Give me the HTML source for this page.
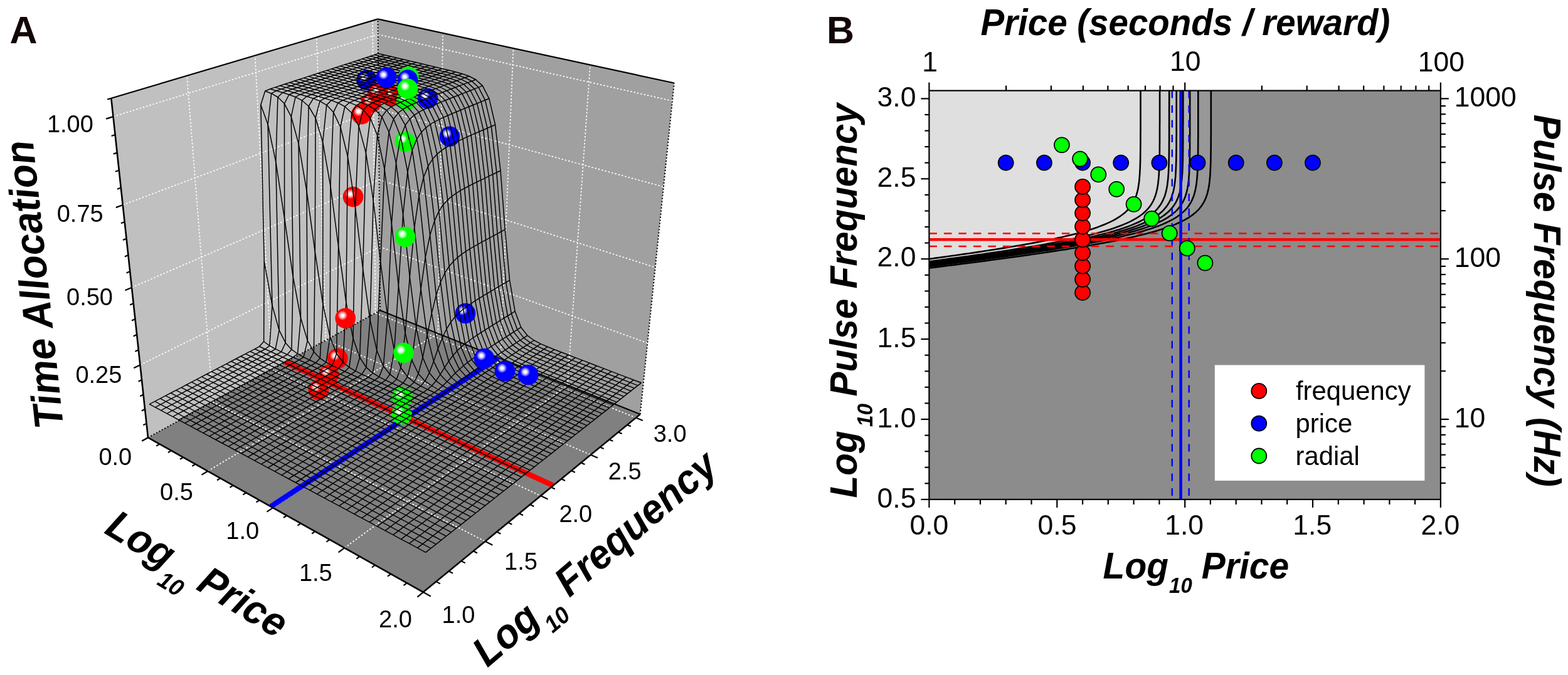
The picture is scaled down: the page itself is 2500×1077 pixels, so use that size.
<!DOCTYPE html>
<html><head><meta charset="utf-8"><title>Reward mountain</title>
<style>html,body{margin:0;padding:0;background:#fff;width:2500px;height:1077px;overflow:hidden}svg{display:block}</style>
</head><body><svg width="2500" height="1077" viewBox="0 0 2500 1077"><defs><radialGradient id="ball_r" cx="0.36" cy="0.36" r="0.5" fx="0.36" fy="0.36"><stop offset="0" stop-color="#fff"/><stop offset="0.13" stop-color="#fffafa"/><stop offset="0.3" stop-color="#ff9090"/><stop offset="0.48" stop-color="#ff0000"/><stop offset="1" stop-color="#ff0000"/></radialGradient><radialGradient id="ball_b" cx="0.36" cy="0.36" r="0.5" fx="0.36" fy="0.36"><stop offset="0" stop-color="#fff"/><stop offset="0.13" stop-color="#fffafa"/><stop offset="0.3" stop-color="#9090ff"/><stop offset="0.48" stop-color="#0000ff"/><stop offset="1" stop-color="#0000ff"/></radialGradient><radialGradient id="ball_g" cx="0.36" cy="0.36" r="0.5" fx="0.36" fy="0.36"><stop offset="0" stop-color="#fff"/><stop offset="0.13" stop-color="#fffafa"/><stop offset="0.3" stop-color="#a0ffa0"/><stop offset="0.48" stop-color="#00ff00"/><stop offset="1" stop-color="#00ff00"/></radialGradient></defs><rect width="2500" height="1077" fill="#fff"/><polygon points="236,698.2 606.2,495.3 602.5,30.4 177.3,156.7" fill="#c0c0c0"/><polygon points="606.2,495.3 1020.7,660.9 1074.9,132.5 602.5,30.4" fill="#a0a0a0"/><polygon points="236,698.2 674.8,944.8 1020.7,660.9 606.2,495.3" fill="#808080"/><line x1="223.5" y1="582.2" x2="605.4" y2="393.8" stroke="#fff" stroke-width="1.7" stroke-dasharray="2.6 2.9" fill="none"/><line x1="605.4" y1="393.8" x2="1032.3" y2="547.3" stroke="#fff" stroke-width="1.7" stroke-dasharray="2.6 2.9" fill="none"/><line x1="210.1" y1="458.7" x2="604.5" y2="286.9" stroke="#fff" stroke-width="1.7" stroke-dasharray="2.6 2.9" fill="none"/><line x1="604.5" y1="286.9" x2="1044.7" y2="426.6" stroke="#fff" stroke-width="1.7" stroke-dasharray="2.6 2.9" fill="none"/><line x1="195.8" y1="327" x2="603.6" y2="174.1" stroke="#fff" stroke-width="1.7" stroke-dasharray="2.6 2.9" fill="none"/><line x1="603.6" y1="174.1" x2="1057.9" y2="298.1" stroke="#fff" stroke-width="1.7" stroke-dasharray="2.6 2.9" fill="none"/><line x1="180.5" y1="186.1" x2="602.7" y2="55" stroke="#fff" stroke-width="1.7" stroke-dasharray="2.6 2.9" fill="none"/><line x1="602.7" y1="55" x2="1072" y2="161" stroke="#fff" stroke-width="1.7" stroke-dasharray="2.6 2.9" fill="none"/><line x1="339.3" y1="641.6" x2="298" y2="120.9" stroke="#fff" stroke-width="1.7" stroke-dasharray="2.6 2.9" fill="none"/><line x1="339.3" y1="641.6" x2="773.6" y2="863.7" stroke="#fff" stroke-width="1.7" stroke-dasharray="2.6 2.9" fill="none"/><line x1="433.4" y1="590" x2="406.6" y2="88.6" stroke="#fff" stroke-width="1.7" stroke-dasharray="2.6 2.9" fill="none"/><line x1="433.4" y1="590" x2="862.1" y2="791.1" stroke="#fff" stroke-width="1.7" stroke-dasharray="2.6 2.9" fill="none"/><line x1="519.5" y1="542.8" x2="504.8" y2="59.4" stroke="#fff" stroke-width="1.7" stroke-dasharray="2.6 2.9" fill="none"/><line x1="519.5" y1="542.8" x2="941.8" y2="725.7" stroke="#fff" stroke-width="1.7" stroke-dasharray="2.6 2.9" fill="none"/><line x1="598.6" y1="499.4" x2="594" y2="32.9" stroke="#fff" stroke-width="1.7" stroke-dasharray="2.6 2.9" fill="none"/><line x1="598.6" y1="499.4" x2="1013.8" y2="666.5" stroke="#fff" stroke-width="1.7" stroke-dasharray="2.6 2.9" fill="none"/><line x1="698.4" y1="532.2" x2="706.1" y2="52.8" stroke="#fff" stroke-width="1.7" stroke-dasharray="2.6 2.9" fill="none"/><line x1="331.2" y1="751.7" x2="698.4" y2="532.2" stroke="#fff" stroke-width="1.7" stroke-dasharray="2.6 2.9" fill="none"/><line x1="797.7" y1="571.8" x2="818.5" y2="77.1" stroke="#fff" stroke-width="1.7" stroke-dasharray="2.6 2.9" fill="none"/><line x1="435.2" y1="810.2" x2="797.7" y2="571.8" stroke="#fff" stroke-width="1.7" stroke-dasharray="2.6 2.9" fill="none"/><line x1="904.8" y1="614.6" x2="941" y2="103.5" stroke="#fff" stroke-width="1.7" stroke-dasharray="2.6 2.9" fill="none"/><line x1="549.2" y1="874.2" x2="904.8" y2="614.6" stroke="#fff" stroke-width="1.7" stroke-dasharray="2.6 2.9" fill="none"/><line x1="606.2" y1="495.3" x2="602.5" y2="30.4" stroke="#000" stroke-width="2" stroke-dasharray="2 3" fill="none"/><line x1="1020.7" y1="660.9" x2="1074.9" y2="132.5" stroke="#000" stroke-width="2" stroke-dasharray="2 3" fill="none"/><line x1="236" y1="698.2" x2="606.2" y2="495.3" stroke="#000" stroke-width="2" stroke-dasharray="2 3" fill="none"/><line x1="606.2" y1="495.3" x2="1020.7" y2="660.9" stroke="#000" stroke-width="2"/><line x1="177.3" y1="156.7" x2="602.5" y2="30.4" stroke="#000" stroke-width="2.2"/><line x1="602.5" y1="30.4" x2="1074.9" y2="132.5" stroke="#000" stroke-width="2.2"/><line x1="454.9" y1="578.2" x2="882.1" y2="774.7" stroke="#ff0000" stroke-width="8.5"/><line x1="431.7" y1="808.2" x2="794.4" y2="570.5" stroke="#0000ff" stroke-width="8.5"/><circle cx="584.6" cy="127.9" r="16.3" fill="url(#ball_b)"/><circle cx="591.5" cy="164" r="16.3" fill="url(#ball_r)"/><circle cx="576.2" cy="182.2" r="16.3" fill="url(#ball_r)"/><circle cx="623.6" cy="152.9" r="16.3" fill="url(#ball_r)"/><circle cx="602.7" cy="148.7" r="16.3" fill="url(#ball_r)"/><circle cx="648" cy="159.9" r="16.3" fill="url(#ball_g)"/><circle cx="682" cy="157.1" r="16.3" fill="url(#ball_b)"/><circle cx="563" cy="314" r="16.3" fill="url(#ball_r)"/><circle cx="645.8" cy="226" r="16.3" fill="url(#ball_g)"/><circle cx="716.9" cy="217.7" r="16.3" fill="url(#ball_b)"/><circle cx="742" cy="500" r="16.3" fill="url(#ball_b)"/><circle cx="538.4" cy="572.1" r="16.3" fill="url(#ball_r)"/><circle cx="524.1" cy="597.7" r="16.3" fill="url(#ball_r)"/><circle cx="507.8" cy="622.2" r="16.3" fill="url(#ball_r)"/><circle cx="641.6" cy="633.4" r="16.3" fill="url(#ball_g)"/><circle cx="640.6" cy="661" r="16.3" fill="url(#ball_g)"/><g fill="none" stroke="#000" stroke-width="1.5" stroke-linejoin="round"><polyline points="238.3,644.9 246.9,640.4 255.4,635.9 263.9,631.4 272.3,627 280.7,622.6 289,618.3 297.2,614 305.4,609.7 313.5,605.4 321.5,601.2 329.5,597 337.4,592.8 345.3,588.7 353.1,584.6 360.9,580.6 368.5,576.5 376.2,572.5 383.8,568.5 391.3,564.6 398.8,560.7 406.2,556.8 413.5,552.8 420.6,545 421.2,416.8 415.8,167.3 422.7,145.2 430.6,142 438.4,139.4 446.2,136.8 453.9,134.3 461.6,131.8 469.2,129.3 476.7,126.8 484.2,124.4 491.7,121.9 499.1,119.5 506.4,117.1 513.7,114.8 520.9,112.4 528,110.1 535.1,107.7 542.2,105.4 549.2,103.1 556.2,100.9 563.1,98.6 569.9,96.4 576.7,94.1 583.5,91.9 590.2,89.7 596.9,87.5 603.5,85.4"/><polyline points="247.5,649.8 256.1,645.3 264.6,640.7 273.1,636.2 281.5,631.8 289.9,627.4 298.2,623 306.4,618.6 314.6,614.3 322.7,610 330.7,605.8 338.7,601.5 346.6,597.3 354.5,593.2 362.3,589.1 370,585 377.7,580.9 385.3,576.8 392.9,572.8 400.4,568.8 407.9,564.9 415.3,561 422.7,557 429.9,551.6 434,487.3 427.1,198.5 432.7,149.2 440.5,144.8 448.4,142.1 456.2,139.6 463.9,137 471.5,134.5 479.1,132 486.7,129.5 494.2,127 501.6,124.6 509,122.1 516.3,119.7 523.6,117.3 530.8,114.9 537.9,112.6 545,110.2 552.1,107.9 559.1,105.6 566,103.3 572.9,101 579.8,98.8 586.6,96.5 593.3,94.3 600,92.1 606.7,89.9 613.3,87.7"/><polyline points="256.7,654.8 265.3,650.2 273.9,645.6 282.4,641.1 290.8,636.6 299.1,632.2 307.4,627.7 315.7,623.3 323.8,619 331.9,614.7 340,610.4 347.9,606.1 355.9,601.9 363.7,597.7 371.5,593.5 379.3,589.4 387,585.3 394.6,581.2 402.2,577.2 409.7,573.2 417.1,569.2 424.6,565.2 431.9,561.3 439.2,556.8 445.1,526.9 439.8,258.4 442.9,155 450.6,147.8 458.4,144.9 466.2,142.3 473.9,139.8 481.6,137.2 489.2,134.7 496.7,132.2 504.2,129.7 511.6,127.2 519,124.8 526.3,122.3 533.5,119.9 540.7,117.5 547.9,115.1 555,112.8 562,110.4 569,108.1 576,105.8 582.8,103.5 589.7,101.2 596.5,98.9 603.2,96.7 609.9,94.5 616.5,92.3 623.1,90.1"/><polyline points="266.1,659.8 274.7,655.2 283.2,650.6 291.7,646 300.1,641.5 308.5,637 316.8,632.5 325,628.1 333.2,623.7 341.3,619.3 349.3,615 357.3,610.7 365.2,606.5 373,602.2 380.8,598 388.6,593.9 396.3,589.7 403.9,585.6 411.5,581.5 419,577.5 426.4,573.5 433.8,569.5 441.2,565.5 448.5,561.4 455.2,547 453.6,348.6 453.4,165.3 460.8,151 468.6,147.8 476.3,145.1 484,142.5 491.7,140 499.3,137.4 506.8,134.9 514.3,132.4 521.7,129.9 529,127.4 536.3,124.9 543.6,122.5 550.8,120.1 557.9,117.7 565,115.3 572,112.9 579,110.6 586,108.3 592.8,106 599.7,103.7 606.5,101.4 613.2,99.1 619.9,96.9 626.5,94.6 633.1,92.4"/><polyline points="275.5,664.9 284.1,660.2 292.7,655.5 301.1,650.9 309.6,646.4 317.9,641.8 326.2,637.3 334.4,632.9 342.6,628.4 350.7,624.1 358.7,619.7 366.7,615.4 374.6,611.1 382.4,606.8 390.2,602.6 398,598.4 405.7,594.2 413.3,590.1 420.8,585.9 428.4,581.9 435.8,577.8 443.2,573.8 450.6,569.8 457.9,565.8 464.9,557.7 467.3,441.8 464.3,186.2 471,154.8 478.8,150.7 486.5,147.9 494.2,145.3 501.9,142.7 509.5,140.1 517,137.6 524.4,135.1 531.9,132.6 539.2,130.1 546.5,127.6 553.7,125.1 560.9,122.7 568.1,120.3 575.1,117.9 582.2,115.5 589.1,113.1 596.1,110.8 602.9,108.4 609.7,106.1 616.5,103.8 623.2,101.6 629.9,99.3 636.5,97 643.1,94.8"/><polyline points="285,670 293.6,665.3 302.2,660.6 310.6,655.9 319.1,651.3 327.4,646.7 335.7,642.2 343.9,637.7 352.1,633.2 360.2,628.8 368.2,624.4 376.2,620 384.1,615.7 391.9,611.4 399.7,607.1 407.5,602.9 415.1,598.7 422.7,594.5 430.3,590.4 437.8,586.3 445.3,582.2 452.7,578.2 460,574.1 467.3,570.1 474.5,564.5 479.5,507.5 476.1,229.2 481.4,160.2 489.1,153.7 496.9,150.8 504.5,148.1 512.2,145.5 519.7,142.9 527.3,140.3 534.7,137.8 542.1,135.3 549.5,132.7 556.7,130.2 564,127.8 571.1,125.3 578.3,122.9 585.3,120.5 592.3,118.1 599.3,115.7 606.2,113.3 613.1,111 619.9,108.6 626.7,106.3 633.4,104 640,101.7 646.6,99.5 653.2,97.2"/><polyline points="294.6,675.1 303.2,670.4 311.8,665.6 320.2,661 328.6,656.3 337,651.7 345.3,647.1 353.5,642.6 361.6,638.1 369.7,633.6 377.8,629.2 385.7,624.8 393.6,620.4 401.5,616.1 409.3,611.8 417,607.5 424.7,603.3 432.3,599 439.8,594.9 447.3,590.7 454.8,586.6 462.2,582.5 469.5,578.5 476.8,574.4 484,569.8 490.3,543.4 489,304.7 492.1,169.5 499.5,157.1 507.2,153.7 514.9,151 522.5,148.3 530.1,145.7 537.6,143.1 545.1,140.5 552.5,138 559.8,135.5 567.1,132.9 574.3,130.4 581.4,128 588.6,125.5 595.6,123.1 602.6,120.6 609.6,118.2 616.5,115.9 623.3,113.5 630.1,111.1 636.9,108.8 643.6,106.5 650.2,104.2 656.8,101.9 663.4,99.6"/><polyline points="304.3,680.3 312.9,675.5 321.4,670.7 329.9,666 338.3,661.3 346.7,656.7 354.9,652.1 363.1,647.5 371.3,642.9 379.4,638.4 387.4,634 395.4,629.5 403.3,625.1 411.1,620.8 418.9,616.4 426.6,612.1 434.3,607.8 441.9,603.6 449.5,599.4 456.9,595.2 464.4,591.1 471.8,587 479.1,582.9 486.4,578.8 493.6,574.5 500.4,561.5 502.3,401.8 503,188.1 510,161.3 517.7,156.8 525.4,153.9 533,151.2 540.6,148.5 548.1,145.9 555.5,143.3 562.9,140.7 570.2,138.2 577.5,135.7 584.7,133.1 591.8,130.6 598.9,128.2 606,125.7 613,123.3 619.9,120.8 626.8,118.4 633.7,116 640.4,113.7 647.2,111.3 653.9,109 660.5,106.7 667.1,104.4 673.6,102.1"/><polyline points="314,685.5 322.6,680.7 331.2,675.9 339.7,671.1 348.1,666.4 356.4,661.7 364.7,657.1 372.9,652.4 381,647.9 389.1,643.3 397.1,638.8 405.1,634.3 413,629.9 420.8,625.5 428.6,621.1 436.3,616.8 444,612.5 451.6,608.2 459.1,603.9 466.6,599.7 474.1,595.6 481.4,591.4 488.8,587.3 496,583.2 503.3,579 510.3,571.5 514.9,485.7 514.6,226.6 520.7,167.6 528.3,160.1 536,156.9 543.6,154.1 551.1,151.4 558.6,148.7 566,146.1 573.4,143.5 580.7,140.9 588,138.4 595.2,135.8 602.3,133.3 609.4,130.8 616.4,128.3 623.4,125.9 630.4,123.4 637.2,121 644.1,118.6 650.8,116.2 657.6,113.8 664.2,111.5 670.9,109.2 677.5,106.8 684,104.5"/><polyline points="323.9,690.8 332.5,685.9 341,681.1 349.5,676.3 357.9,671.5 366.2,666.8 374.5,662.1 382.7,657.4 390.9,652.8 398.9,648.2 407,643.7 414.9,639.2 422.8,634.7 430.6,630.3 438.4,625.8 446.1,621.5 453.8,617.1 461.4,612.8 468.9,608.5 476.4,604.3 483.8,600.1 491.2,595.9 498.5,591.7 505.8,587.6 513,583.5 520.1,578 526.2,537.4 526.9,296.8 531.6,179.1 539,164.2 546.6,160 554.2,157.1 561.7,154.3 569.2,151.6 576.6,149 584,146.3 591.3,143.7 598.5,141.2 605.7,138.6 612.9,136.1 620,133.5 627,131 634,128.5 640.9,126.1 647.7,123.6 654.6,121.2 661.3,118.8 668,116.4 674.7,114 681.3,111.7 687.9,109.3 694.4,107"/><polyline points="333.8,696.2 342.4,691.2 350.9,686.3 359.4,681.5 367.8,676.7 376.1,671.9 384.4,667.2 392.6,662.5 400.8,657.8 408.8,653.2 416.8,648.6 424.8,644.1 432.7,639.5 440.5,635.1 448.3,630.6 456,626.2 463.6,621.8 471.2,617.5 478.8,613.2 486.2,608.9 493.7,604.6 501,600.4 508.3,596.2 515.6,592.1 522.8,587.9 529.9,583.3 536.6,564.2 539.6,393.1 542.8,202.5 549.8,170 557.4,163.6 564.9,160.2 572.5,157.3 579.9,154.5 587.3,151.9 594.7,149.2 602,146.6 609.2,144 616.4,141.4 623.5,138.8 630.6,136.3 637.6,133.8 644.6,131.2 651.5,128.8 658.3,126.3 665.1,123.9 671.9,121.4 678.6,119 685.2,116.6 691.9,114.2 698.4,111.9 704.9,109.5"/><polyline points="343.8,701.5 352.4,696.6 361,691.6 369.4,686.7 377.8,681.9 386.1,677.1 394.4,672.3 402.6,667.6 410.7,662.9 418.8,658.2 426.8,653.6 434.8,649 442.7,644.4 450.5,639.9 458.2,635.4 465.9,631 473.6,626.6 481.2,622.2 488.7,617.8 496.2,613.5 503.6,609.2 510.9,605 518.2,600.8 525.5,596.6 532.7,592.4 539.8,588.1 546.8,578 551.8,482.4 554.4,249.8 560.8,180.3 568.2,168.1 575.8,163.6 583.3,160.5 590.7,157.6 598.1,154.8 605.5,152.1 612.8,149.5 620,146.8 627.2,144.2 634.3,141.6 641.3,139.1 648.3,136.5 655.3,134 662.2,131.5 669,129 675.8,126.6 682.5,124.1 689.2,121.7 695.9,119.3 702.5,116.9 709,114.5 715.5,112.1"/><polyline points="353.9,707 362.5,701.9 371.1,697 379.5,692 387.9,687.1 396.2,682.3 404.5,677.5 412.7,672.7 420.8,668 428.9,663.2 436.9,658.6 444.8,654 452.7,649.4 460.5,644.8 468.3,640.3 476,635.8 483.6,631.3 491.2,626.9 498.7,622.5 506.2,618.2 513.6,613.9 520.9,609.6 528.2,605.3 535.5,601.1 542.7,596.9 549.8,592.7 556.8,586.2 563,540.1 566.5,330.5 572,201.2 579.2,175.2 586.7,168 594.2,164 601.7,160.9 609,158 616.4,155.2 623.6,152.5 630.8,149.9 638,147.2 645.1,144.6 652.1,142 659.1,139.4 666.1,136.9 673,134.4 679.8,131.9 686.6,129.4 693.3,126.9 700,124.5 706.6,122 713.2,119.6 719.7,117.2 726.2,114.8"/><polyline points="364.1,712.4 372.7,707.4 381.2,702.4 389.7,697.4 398.1,692.4 406.4,687.5 414.7,682.7 422.9,677.9 431,673.1 439,668.3 447,663.6 455,659 462.8,654.3 470.7,649.7 478.4,645.2 486.1,640.6 493.7,636.2 501.3,631.7 508.8,627.3 516.3,622.9 523.7,618.5 531,614.2 538.3,609.9 545.5,605.7 552.7,601.4 559.8,597.2 566.9,592.1 573.6,570.5 578.6,429.4 583.4,243.9 590.4,188.5 597.8,174.5 605.2,168.7 612.7,164.9 620,161.7 627.3,158.8 634.6,156 641.8,153.2 648.9,150.5 656,147.9 663.1,145.3 670,142.7 677,140.1 683.8,137.5 690.6,135 697.4,132.5 704.1,130 710.8,127.5 717.4,125.1 724,122.6 730.5,120.2 736.9,117.8"/><polyline points="374.4,718 383,712.9 391.5,707.8 400,702.8 408.4,697.8 416.7,692.8 424.9,687.9 433.1,683.1 441.2,678.3 449.3,673.5 457.3,668.7 465.2,664 473.1,659.3 480.9,654.7 488.6,650.1 496.3,645.5 503.9,641 511.5,636.5 519,632.1 526.4,627.6 533.8,623.2 541.2,618.9 548.4,614.6 555.7,610.3 562.8,606 570,601.8 577,597.2 583.9,586.1 590,510.7 595.2,319.5 601.6,215.8 608.9,186.4 616.4,176 623.8,170.5 631.1,166.6 638.4,163.3 645.6,160.3 652.8,157.4 660,154.6 667,151.9 674,149.3 681,146.6 687.9,144 694.8,141.4 701.6,138.9 708.3,136.3 715,133.8 721.7,131.3 728.3,128.8 734.8,126.4 741.3,124 747.8,121.5"/><polyline points="384.8,723.5 393.4,718.4 401.9,713.3 410.3,708.2 418.7,703.2 427,698.2 435.3,693.2 443.5,688.3 451.6,683.5 459.6,678.6 467.6,673.9 475.5,669.1 483.4,664.4 491.2,659.7 498.9,655.1 506.6,650.5 514.2,645.9 521.8,641.4 529.3,636.9 536.7,632.4 544.1,628 551.4,623.6 558.7,619.2 565.9,614.9 573.1,610.6 580.2,606.4 587.2,602 594.2,595.1 600.8,559.3 606.7,418.2 613.1,270 620.2,210.7 627.6,189.7 634.9,180.2 642.3,174.5 649.5,170.3 656.8,166.8 663.9,163.7 671.1,160.7 678.1,157.9 685.1,155.1 692,152.5 698.9,149.8 705.8,147.2 712.6,144.6 719.3,142 726,139.5 732.6,136.9 739.2,134.4 745.7,131.9 752.2,129.5 758.6,127"/><polyline points="395.3,729.2 403.8,724 412.4,718.8 420.8,713.7 429.2,708.6 437.5,703.6 445.7,698.6 453.9,693.7 462,688.7 470,683.9 478,679 485.9,674.3 493.8,669.5 501.6,664.8 509.3,660.1 517,655.5 524.6,650.9 532.1,646.3 539.6,641.8 547,637.3 554.4,632.8 561.7,628.4 569,624 576.2,619.6 583.4,615.3 590.4,611 597.5,606.7 604.5,601.4 611.3,584.2 617.9,504.7 624.4,357.3 631.5,259.8 638.8,218.2 646.2,199.7 653.5,189.9 660.7,183.6 667.9,178.9 675.1,175.1 682.2,171.7 689.2,168.7 696.2,165.7 703.1,162.9 710,160.2 716.8,157.5 723.5,154.8 730.2,152.2 736.9,149.6 743.5,147 750,144.5 756.5,141.9 763,139.4 769.4,136.9"/><polyline points="405.8,734.8 414.4,729.6 422.9,724.4 431.4,719.2 439.7,714.1 448,709 456.3,704 464.4,699 472.5,694.1 480.6,689.1 488.5,684.3 496.4,679.4 504.3,674.6 512.1,669.9 519.8,665.2 527.4,660.5 535,655.8 542.6,651.2 550.1,646.7 557.5,642.1 564.8,637.6 572.1,633.2 579.4,628.7 586.6,624.3 593.7,620 600.8,615.6 607.9,611.3 614.8,606.6 621.7,597.2 628.6,558.7 635.4,456.1 642.6,342.4 649.9,274.1 657.3,239.8 664.6,221.7 671.9,210.9 679,203.8 686.1,198.5 693.2,194.3 700.2,190.7 707.1,187.4 714,184.3 720.8,181.4 727.6,178.5 734.3,175.8 741,173 747.6,170.3 754.1,167.7 760.7,165 767.1,162.4 773.5,159.8 779.9,157.3"/><polyline points="416.5,740.6 425.1,735.3 433.6,730 442,724.8 450.4,719.6 458.7,714.5 466.9,709.4 475.1,704.4 483.1,699.4 491.2,694.5 499.1,689.5 507,684.7 514.9,679.8 522.6,675 530.4,670.3 538,665.6 545.6,660.9 553.1,656.2 560.6,651.6 568,647 575.4,642.5 582.7,638 589.9,633.5 597.1,629.1 604.2,624.7 611.3,620.3 618.3,616 625.3,611.5 632.2,605.2 639.1,586.7 646,531.4 653.3,441.9 660.7,362.8 668.1,312.4 675.4,282.8 682.6,265.1 689.8,253.7 696.8,245.9 703.8,240.1 710.8,235.5 717.6,231.5 724.4,228 731.2,224.7 737.9,221.6 744.5,218.6 751.1,215.7 757.7,212.8 764.1,210 770.6,207.2 777,204.5 783.3,201.7 789.6,199"/><polyline points="427.3,746.3 435.8,741 444.3,735.7 452.8,730.4 461.1,725.2 469.4,720.1 477.6,714.9 485.8,709.9 493.9,704.8 501.9,699.8 509.8,694.9 517.7,689.9 525.5,685.1 533.3,680.2 541,675.4 548.6,670.7 556.2,665.9 563.7,661.2 571.2,656.6 578.6,652 586,647.4 593.2,642.9 600.5,638.4 607.6,633.9 614.8,629.4 621.8,625 628.8,620.7 635.8,616.3 642.7,611.2 649.6,601.2 656.5,574.4 663.6,522.6 671,461.2 678.3,410.3 685.6,375.1 692.8,352.1 699.9,336.9 706.8,326.5 713.7,318.9 720.5,313.1 727.3,308.4 734,304.2 740.6,300.5 747.2,297 753.7,293.7 760.2,290.5 766.6,287.4 773,284.3 779.3,281.2 785.6,278.2 791.8,275.2 798,272.3"/><polyline points="438.1,752.2 446.7,746.8 455.2,741.4 463.6,736.1 472,730.9 480.2,725.7 488.4,720.5 496.6,715.4 504.7,710.3 512.7,705.2 520.6,700.2 528.5,695.3 536.3,690.3 544.1,685.5 551.8,680.6 559.4,675.8 567,671 574.5,666.3 581.9,661.6 589.3,657 596.6,652.4 603.9,647.8 611.1,643.2 618.3,638.7 625.4,634.2 632.5,629.8 639.5,625.4 646.4,621 653.3,616.3 660.2,609.8 667,596.3 674,570.3 681.1,534.8 688.3,499.6 695.4,471.1 702.4,450.2 709.3,435.5 716.1,424.9 722.9,417 729.5,410.8 736.1,405.7 742.7,401.2 749.1,397.2 755.6,393.4 761.9,389.8 768.3,386.2 774.5,382.8 780.8,379.4 786.9,376.1 793.1,372.8 799.2,369.5 805.2,366.2"/><polyline points="449.1,758.1 457.7,752.6 466.1,747.2 474.6,741.9 482.9,736.6 491.2,731.3 499.4,726.1 507.5,720.9 515.6,715.8 523.6,710.7 531.5,705.6 539.4,700.6 547.2,695.7 554.9,690.7 562.6,685.9 570.2,681 577.8,676.2 585.3,671.4 592.7,666.7 600.1,662 607.4,657.4 614.7,652.7 621.9,648.1 629.1,643.6 636.2,639.1 643.2,634.6 650.2,630.2 657.1,625.7 664,621.2 670.8,616 677.7,608.1 684.5,594.8 691.4,576.4 698.3,556.6 705.2,539 712,524.9 718.8,514 725.4,505.6 732,498.9 738.5,493.3 744.9,488.5 751.3,484.1 757.7,479.9 764,476 770.2,472.2 776.4,468.5 782.5,464.8 788.6,461.2 794.7,457.6 800.7,454.1 806.7,450.6 812.6,447.1"/><polyline points="460.2,764 468.7,758.5 477.2,753.1 485.6,747.7 493.9,742.3 502.2,737 510.4,731.7 518.5,726.5 526.6,721.3 534.6,716.2 542.5,711.1 550.4,706.1 558.1,701 565.9,696.1 573.6,691.2 581.2,686.3 588.7,681.4 596.2,676.6 603.6,671.8 611,667.1 618.3,662.4 625.6,657.7 632.8,653.1 639.9,648.5 647,644 654,639.5 661,635 667.9,630.5 674.8,626.1 681.6,621.3 688.4,615.6 695.2,607.7 701.9,597.6 708.7,586.6 715.4,576.3 722.1,567.4 728.7,560 735.2,553.7 741.6,548.3 748,543.5 754.4,539 760.7,534.7 766.9,530.6 773.1,526.7 779.3,522.8 785.4,518.9 791.5,515.1 797.5,511.4 803.5,507.7 809.4,504 815.3,500.3 821.1,496.7"/><polyline points="471.3,770 479.9,764.5 488.4,759 496.7,753.5 505.1,748.1 513.3,742.7 521.5,737.4 529.6,732.2 537.7,726.9 545.7,721.8 553.6,716.6 561.4,711.5 569.2,706.5 576.9,701.5 584.6,696.5 592.2,691.6 599.7,686.7 607.2,681.8 614.6,677 622,672.2 629.3,667.5 636.5,662.8 643.7,658.1 650.8,653.5 657.9,648.9 664.9,644.3 671.9,639.8 678.8,635.3 685.6,630.9 692.4,626.3 699.2,621.4 705.9,615.6 712.6,609 719.3,602 725.9,595.2 732.5,589.1 739,583.5 745.4,578.4 751.8,573.7 758.2,569.3 764.5,565 770.7,560.8 776.9,556.8 783.1,552.8 789.2,548.9 795.2,545 801.3,541.1 807.2,537.3 813.2,533.5 819.1,529.7 824.9,525.9 830.7,522.2"/><polyline points="482.6,776.1 491.2,770.5 499.6,764.9 508,759.4 516.3,754 524.6,748.5 532.7,743.2 540.8,737.9 548.9,732.6 556.8,727.4 564.8,722.2 572.6,717 580.4,711.9 588.1,706.9 595.7,701.9 603.3,696.9 610.8,692 618.3,687.1 625.7,682.2 633.1,677.4 640.3,672.6 647.6,667.9 654.7,663.2 661.9,658.5 668.9,653.9 675.9,649.3 682.9,644.7 689.8,640.2 696.6,635.7 703.4,631.2 710.1,626.6 716.8,621.6 723.5,616.4 730.1,611 736.7,605.7 743.2,600.7 749.6,595.9 756.1,591.3 762.4,586.9 768.7,582.6 775,578.5 781.2,574.4 787.4,570.3 793.5,566.3 799.6,562.3 805.6,558.4 811.6,554.4 817.5,550.6 823.4,546.7 829.3,542.9 835.1,539.1 840.9,535.3"/><polyline points="494,782.2 502.5,776.5 511,770.9 519.4,765.4 527.7,759.9 535.9,754.4 544.1,749 552.2,743.6 560.2,738.3 568.1,733 576,727.8 583.9,722.6 591.6,717.5 599.3,712.4 607,707.3 614.5,702.3 622.1,697.3 629.5,692.4 636.9,687.5 644.2,682.6 651.5,677.8 658.7,673 665.9,668.3 673,663.5 680,658.9 687,654.2 693.9,649.6 700.8,645.1 707.7,640.6 714.4,636 721.2,631.5 727.8,626.9 734.5,622.1 741,617.4 747.6,612.6 754.1,608 760.5,603.6 766.9,599.2 773.2,594.9 779.5,590.7 785.7,586.5 791.9,582.4 798.1,578.3 804.2,574.3 810.2,570.3 816.2,566.3 822.2,562.4 828.1,558.4 834,554.5 839.9,550.7 845.7,546.8 851.4,543"/><polyline points="505.5,788.3 514,782.6 522.5,777 530.8,771.4 539.1,765.8 547.3,760.3 555.5,754.8 563.6,749.4 571.6,744.1 579.5,738.7 587.4,733.5 595.2,728.2 603,723 610.7,717.9 618.3,712.8 625.9,707.7 633.4,702.7 640.8,697.7 648.2,692.8 655.5,687.9 662.8,683 670,678.2 677.1,673.4 684.2,668.6 691.2,663.9 698.2,659.3 705.1,654.6 712,650 718.8,645.5 725.6,640.9 732.3,636.4 738.9,631.8 745.5,627.3 752.1,622.7 758.6,618.2 765.1,613.8 771.5,609.4 777.9,605.1 784.2,600.8 790.4,596.6 796.7,592.4 802.8,588.3 809,584.2 815,580.1 821.1,576.1 827.1,572 833,568.1 838.9,564.1 844.8,560.2 850.6,556.3 856.4,552.4 862.1,548.6"/><polyline points="517.1,794.6 525.6,788.8 534,783.1 542.4,777.4 550.7,771.8 558.9,766.3 567,760.8 575.1,755.3 583.1,749.9 591,744.5 598.9,739.2 606.7,733.9 614.5,728.7 622.1,723.5 629.7,718.3 637.3,713.2 644.8,708.1 652.2,703.1 659.6,698.1 666.9,693.2 674.1,688.3 681.3,683.4 688.4,678.6 695.5,673.8 702.5,669 709.5,664.3 716.4,659.6 723.2,655 730,650.4 736.8,645.8 743.5,641.3 750.1,636.7 756.7,632.2 763.3,627.7 769.8,623.3 776.2,618.9 782.6,614.5 788.9,610.2 795.2,605.9 801.5,601.7 807.7,597.5 813.8,593.3 819.9,589.2 826,585.1 832,581 838,576.9 843.9,572.9 849.8,568.9 855.7,565 861.5,561.1 867.3,557.2 873,553.3"/><polyline points="528.8,800.9 537.3,795 545.7,789.3 554.1,783.6 562.3,777.9 570.5,772.3 578.7,766.7 586.7,761.2 594.7,755.7 602.7,750.3 610.5,744.9 618.3,739.6 626,734.3 633.7,729.1 641.3,723.9 648.8,718.7 656.3,713.6 663.7,708.5 671.1,703.5 678.3,698.5 685.6,693.6 692.7,688.7 699.9,683.8 706.9,679 713.9,674.2 720.9,669.4 727.8,664.7 734.6,660 741.4,655.4 748.1,650.8 754.8,646.2 761.4,641.6 768,637.1 774.5,632.6 781,628.2 787.4,623.8 793.8,619.4 800.1,615.1 806.4,610.7 812.6,606.5 818.8,602.2 825,598 831,593.9 837.1,589.7 843.1,585.6 849.1,581.5 855,577.5 860.8,573.5 866.7,569.5 872.5,565.5 878.2,561.6 883.9,557.7"/><polyline points="540.7,807.2 549.1,801.3 557.5,795.5 565.9,789.8 574.1,784 582.3,778.4 590.4,772.8 598.5,767.2 606.5,761.7 614.4,756.2 622.2,750.8 630,745.4 637.7,740 645.3,734.8 652.9,729.5 660.5,724.3 667.9,719.1 675.3,714 682.6,709 689.9,703.9 697.1,698.9 704.3,694 711.4,689.1 718.4,684.2 725.4,679.4 732.3,674.6 739.2,669.8 746,665.1 752.8,660.4 759.5,655.8 766.2,651.1 772.8,646.6 779.4,642 785.9,637.5 792.3,633 798.7,628.6 805.1,624.2 811.4,619.8 817.7,615.5 823.9,611.2 830,606.9 836.2,602.7 842.2,598.5 848.3,594.3 854.3,590.1 860.2,586 866.1,582 872,577.9 877.8,573.9 883.5,569.9 889.3,565.9 895,562"/><polyline points="552.6,813.6 561.1,807.7 569.5,801.8 577.8,796 586,790.2 594.2,784.5 602.3,778.8 610.3,773.2 618.3,767.6 626.2,762.1 634,756.6 641.8,751.2 649.5,745.8 657.1,740.5 664.7,735.2 672.2,729.9 679.6,724.7 687,719.6 694.3,714.4 701.6,709.4 708.8,704.3 715.9,699.3 723,694.4 730,689.5 737,684.6 743.9,679.7 750.8,674.9 757.6,670.2 764.3,665.5 771,660.8 777.7,656.1 784.3,651.5 790.8,646.9 797.3,642.4 803.8,637.9 810.1,633.4 816.5,629 822.8,624.6 829,620.2 835.2,615.9 841.4,611.6 847.5,607.3 853.5,603 859.5,598.8 865.5,594.7 871.4,590.5 877.3,586.4 883.2,582.3 889,578.3 894.7,574.2 900.4,570.2 906.1,566.3"/><polyline points="564.7,820.1 573.1,814.1 581.5,808.2 589.8,802.3 598,796.5 606.2,790.7 614.3,785 622.3,779.3 630.3,773.7 638.1,768.1 645.9,762.6 653.7,757.1 661.4,751.7 669,746.3 676.5,740.9 684,735.6 691.5,730.4 698.8,725.2 706.1,720 713.4,714.9 720.6,709.8 727.7,704.7 734.8,699.7 741.8,694.8 748.7,689.9 755.6,685 762.5,680.1 769.2,675.3 776,670.6 782.7,665.9 789.3,661.2 795.9,656.5 802.4,651.9 808.9,647.3 815.3,642.8 821.7,638.3 828,633.8 834.3,629.3 840.5,624.9 846.7,620.6 852.8,616.2 858.9,611.9 864.9,607.6 870.9,603.4 876.9,599.2 882.8,595 888.6,590.9 894.5,586.8 900.2,582.7 906,578.6 911.7,574.6 917.3,570.6"/><polyline points="576.8,826.6 585.3,820.6 593.6,814.6 601.9,808.7 610.2,802.8 618.3,796.9 626.4,791.2 634.4,785.4 642.3,779.8 650.2,774.1 658,768.6 665.7,763 673.4,757.5 681,752.1 688.5,746.7 696,741.4 703.4,736.1 710.7,730.8 718,725.6 725.3,720.4 732.4,715.3 739.5,710.2 746.6,705.2 753.6,700.2 760.5,695.2 767.4,690.3 774.2,685.4 781,680.5 787.7,675.7 794.4,671 801,666.2 807.5,661.5 814,656.9 820.5,652.3 826.9,647.7 833.3,643.1 839.6,638.6 845.8,634.1 852,629.7 858.2,625.3 864.3,620.9 870.4,616.6 876.4,612.3 882.4,608 888.3,603.8 894.2,599.5 900,595.4 905.8,591.2 911.6,587.1 917.3,583 923,578.9 928.6,574.9"/><polyline points="589.1,833.2 597.6,827.1 605.9,821.1 614.2,815.1 622.4,809.1 630.5,803.3 638.6,797.4 646.6,791.6 654.5,785.9 662.3,780.2 670.1,774.6 677.8,769 685.5,763.5 693.1,758 700.6,752.5 708.1,747.1 715.4,741.8 722.8,736.5 730.1,731.2 737.3,726 744.4,720.8 751.5,715.7 758.5,710.6 765.5,705.6 772.4,700.6 779.3,695.6 786.1,690.7 792.8,685.8 799.5,680.9 806.2,676.1 812.8,671.4 819.3,666.6 825.8,661.9 832.2,657.3 838.6,652.6 845,648.1 851.3,643.5 857.5,639 863.7,634.5 869.8,630.1 875.9,625.7 882,621.3 888,616.9 893.9,612.6 899.8,608.3 905.7,604.1 911.5,599.9 917.3,595.7 923,591.5 928.7,587.4 934.4,583.3 940,579.3"/><polyline points="601.5,839.9 610,833.7 618.3,827.6 626.6,821.6 634.7,815.6 642.9,809.6 650.9,803.7 658.9,797.9 666.8,792.1 674.6,786.4 682.4,780.7 690.1,775.1 697.7,769.5 705.3,763.9 712.8,758.4 720.2,753 727.6,747.6 734.9,742.2 742.2,736.9 749.4,731.7 756.5,726.4 763.6,721.3 770.6,716.1 777.5,711 784.4,706 791.3,701 798.1,696 804.8,691.1 811.5,686.2 818.1,681.3 824.7,676.5 831.2,671.7 837.7,667 844.1,662.3 850.5,657.6 856.8,653 863,648.4 869.3,643.9 875.4,639.4 881.5,634.9 887.6,630.4 893.7,626 899.6,621.6 905.6,617.3 911.5,613 917.3,608.7 923.1,604.4 928.9,600.2 934.6,596 940.3,591.9 945.9,587.8 951.5,583.7"/><polyline points="614.1,846.6 622.5,840.4 630.8,834.2 639.1,828.1 647.2,822.1 655.3,816.1 663.4,810.1 671.3,804.2 679.2,798.4 687,792.6 694.8,786.9 702.4,781.2 710.1,775.5 717.6,769.9 725.1,764.4 732.5,758.9 739.9,753.4 747.2,748 754.4,742.7 761.6,737.4 768.7,732.1 775.8,726.9 782.7,721.7 789.7,716.5 796.6,711.4 803.4,706.4 810.2,701.4 816.9,696.4 823.5,691.5 830.1,686.6 836.7,681.7 843.2,676.9 849.6,672.1 856,667.4 862.4,662.7 868.7,658 874.9,653.4 881.1,648.8 887.3,644.3 893.4,639.7 899.4,635.2 905.4,630.8 911.4,626.4 917.3,622 923.2,617.6 929,613.3 934.8,609 940.5,604.8 946.2,600.6 951.9,596.4 957.5,592.2 963.1,588.1"/><polyline points="626.8,853.4 635.1,847.1 643.4,840.9 651.7,834.7 659.8,828.6 667.9,822.6 675.9,816.6 683.9,810.6 691.7,804.7 699.5,798.9 707.3,793.1 714.9,787.3 722.5,781.6 730.1,776 737.5,770.4 744.9,764.8 752.3,759.3 759.5,753.9 766.8,748.5 773.9,743.1 781,737.8 788,732.5 795,727.3 801.9,722.1 808.8,717 815.6,711.9 822.3,706.8 829,701.8 835.7,696.8 842.3,691.9 848.8,687 855.3,682.1 861.7,677.3 868.1,672.5 874.4,667.8 880.7,663.1 886.9,658.4 893.1,653.8 899.2,649.2 905.3,644.6 911.3,640.1 917.3,635.6 923.3,631.2 929.2,626.7 935,622.3 940.8,618 946.6,613.7 952.3,609.4 958,605.1 963.6,600.9 969.2,596.7 974.8,592.6"/><polyline points="639.5,860.3 647.9,853.9 656.2,847.7 664.4,841.4 672.6,835.2 680.6,829.1 688.6,823.1 696.5,817.1 704.4,811.1 712.2,805.2 719.9,799.3 727.5,793.5 735.1,787.8 742.6,782.1 750.1,776.4 757.4,770.8 764.8,765.3 772,759.8 779.2,754.3 786.4,748.9 793.4,743.6 800.4,738.2 807.4,733 814.3,727.7 821.1,722.5 827.9,717.4 834.6,712.3 841.3,707.2 847.9,702.2 854.5,697.2 861,692.3 867.5,687.4 873.9,682.5 880.2,677.7 886.5,672.9 892.8,668.2 899,663.5 905.2,658.8 911.3,654.2 917.3,649.6 923.3,645 929.3,640.5 935.2,636 941.1,631.5 946.9,627.1 952.7,622.7 958.5,618.4 964.2,614 969.8,609.7 975.4,605.5 981,601.3 986.5,597.1"/><polyline points="652.5,867.2 660.8,860.8 669.1,854.5 677.3,848.2 685.4,841.9 693.5,835.8 701.4,829.6 709.3,823.6 717.2,817.6 724.9,811.6 732.6,805.7 740.2,799.8 747.8,794 755.3,788.3 762.7,782.6 770.1,776.9 777.4,771.3 784.6,765.7 791.8,760.2 798.9,754.8 806,749.4 813,744 819.9,738.7 826.8,733.4 833.6,728.1 840.4,723 847.1,717.8 853.7,712.7 860.3,707.6 866.9,702.6 873.3,697.6 879.8,692.7 886.2,687.8 892.5,682.9 898.8,678.1 905,673.3 911.2,668.6 917.3,663.8 923.4,659.2 929.5,654.5 935.5,649.9 941.4,645.4 947.3,640.8 953.2,636.3 959,631.9 964.7,627.5 970.4,623.1 976.1,618.7 981.8,614.4 987.3,610.1 992.9,605.8 998.4,601.6"/><polyline points="665.5,874.2 673.9,867.8 682.1,861.3 690.3,855 698.4,848.7 706.4,842.4 714.4,836.3 722.2,830.1 730.1,824.1 737.8,818 745.5,812.1 753.1,806.2 760.6,800.3 768.1,794.5 775.5,788.7 782.8,783 790.1,777.4 797.3,771.8 804.5,766.2 811.6,760.7 818.6,755.2 825.6,749.8 832.5,744.4 839.4,739.1 846.2,733.8 852.9,728.6 859.6,723.4 866.2,718.2 872.8,713.1 879.3,708 885.8,703 892.2,698 898.6,693.1 904.9,688.2 911.1,683.3 917.3,678.5 923.5,673.7 929.6,668.9 935.7,664.2 941.7,659.5 947.7,654.9 953.6,650.3 959.5,645.7 965.3,641.2 971.1,636.7 976.8,632.2 982.5,627.8 988.2,623.4 993.8,619.1 999.4,614.7 1004.9,610.4 1010.4,606.2"/><polyline points="678.7,881.3 687,874.8 695.3,868.3 703.4,861.9 711.5,855.5 719.5,849.2 727.4,843 735.3,836.8 743.1,830.6 750.8,824.6 758.5,818.5 766,812.6 773.6,806.7 781,800.8 788.4,795 795.7,789.2 803,783.5 810.2,777.8 817.3,772.2 824.4,766.7 831.4,761.1 838.3,755.7 845.2,750.2 852.1,744.9 858.8,739.5 865.6,734.2 872.2,729 878.8,723.8 885.4,718.6 891.9,713.5 898.3,708.5 904.7,703.4 911.1,698.4 917.3,693.5 923.6,688.6 929.8,683.7 935.9,678.9 942,674.1 948,669.3 954,664.6 960,659.9 965.9,655.3 971.7,650.7 977.5,646.1 983.3,641.6 989,637.1 994.7,632.6 1000.3,628.2 1005.9,623.8 1011.5,619.4 1017,615.1 1022.4,610.8"/><polyline points="238.3,644.9 247.5,649.8 256.7,654.8 266.1,659.8 275.5,664.9 285,670 294.6,675.1 304.3,680.3 314,685.5 323.9,690.8 333.8,696.2 343.8,701.5 353.9,707 364.1,712.4 374.4,718 384.8,723.5 395.3,729.2 405.8,734.8 416.5,740.6 427.3,746.3 438.1,752.2 449.1,758.1 460.2,764 471.3,770 482.6,776.1 494,782.2 505.5,788.3 517.1,794.6 528.8,800.9 540.7,807.2 552.6,813.6 564.7,820.1 576.8,826.6 589.1,833.2 601.5,839.9 614.1,846.6 626.8,853.4 639.5,860.3 652.5,867.2 665.5,874.2 678.7,881.3"/><polyline points="246.9,640.4 256.1,645.3 265.3,650.2 274.7,655.2 284.1,660.2 293.6,665.3 303.2,670.4 312.9,675.5 322.6,680.7 332.5,685.9 342.4,691.2 352.4,696.6 362.5,701.9 372.7,707.4 383,712.9 393.4,718.4 403.8,724 414.4,729.6 425.1,735.3 435.8,741 446.7,746.8 457.7,752.6 468.7,758.5 479.9,764.5 491.2,770.5 502.5,776.5 514,782.6 525.6,788.8 537.3,795 549.1,801.3 561.1,807.7 573.1,814.1 585.3,820.6 597.6,827.1 610,833.7 622.5,840.4 635.1,847.1 647.9,853.9 660.8,860.8 673.9,867.8 687,874.8"/><polyline points="255.4,635.9 264.6,640.7 273.9,645.6 283.2,650.6 292.7,655.5 302.2,660.6 311.8,665.6 321.4,670.7 331.2,675.9 341,681.1 350.9,686.3 361,691.6 371.1,697 381.2,702.4 391.5,707.8 401.9,713.3 412.4,718.8 422.9,724.4 433.6,730 444.3,735.7 455.2,741.4 466.1,747.2 477.2,753.1 488.4,759 499.6,764.9 511,770.9 522.5,777 534,783.1 545.7,789.3 557.5,795.5 569.5,801.8 581.5,808.2 593.6,814.6 605.9,821.1 618.3,827.6 630.8,834.2 643.4,840.9 656.2,847.7 669.1,854.5 682.1,861.3 695.3,868.3"/><polyline points="263.9,631.4 273.1,636.2 282.4,641.1 291.7,646 301.1,650.9 310.6,655.9 320.2,661 329.9,666 339.7,671.1 349.5,676.3 359.4,681.5 369.4,686.7 379.5,692 389.7,697.4 400,702.8 410.3,708.2 420.8,713.7 431.4,719.2 442,724.8 452.8,730.4 463.6,736.1 474.6,741.9 485.6,747.7 496.7,753.5 508,759.4 519.4,765.4 530.8,771.4 542.4,777.4 554.1,783.6 565.9,789.8 577.8,796 589.8,802.3 601.9,808.7 614.2,815.1 626.6,821.6 639.1,828.1 651.7,834.7 664.4,841.4 677.3,848.2 690.3,855 703.4,861.9"/><polyline points="272.3,627 281.5,631.8 290.8,636.6 300.1,641.5 309.6,646.4 319.1,651.3 328.6,656.3 338.3,661.3 348.1,666.4 357.9,671.5 367.8,676.7 377.8,681.9 387.9,687.1 398.1,692.4 408.4,697.8 418.7,703.2 429.2,708.6 439.7,714.1 450.4,719.6 461.1,725.2 472,730.9 482.9,736.6 493.9,742.3 505.1,748.1 516.3,754 527.7,759.9 539.1,765.8 550.7,771.8 562.3,777.9 574.1,784 586,790.2 598,796.5 610.2,802.8 622.4,809.1 634.7,815.6 647.2,822.1 659.8,828.6 672.6,835.2 685.4,841.9 698.4,848.7 711.5,855.5"/><polyline points="280.7,622.6 289.9,627.4 299.1,632.2 308.5,637 317.9,641.8 327.4,646.7 337,651.7 346.7,656.7 356.4,661.7 366.2,666.8 376.1,671.9 386.1,677.1 396.2,682.3 406.4,687.5 416.7,692.8 427,698.2 437.5,703.6 448,709 458.7,714.5 469.4,720.1 480.2,725.7 491.2,731.3 502.2,737 513.3,742.7 524.6,748.5 535.9,754.4 547.3,760.3 558.9,766.3 570.5,772.3 582.3,778.4 594.2,784.5 606.2,790.7 618.3,796.9 630.5,803.3 642.9,809.6 655.3,816.1 667.9,822.6 680.6,829.1 693.5,835.8 706.4,842.4 719.5,849.2"/><polyline points="289,618.3 298.2,623 307.4,627.7 316.8,632.5 326.2,637.3 335.7,642.2 345.3,647.1 354.9,652.1 364.7,657.1 374.5,662.1 384.4,667.2 394.4,672.3 404.5,677.5 414.7,682.7 424.9,687.9 435.3,693.2 445.7,698.6 456.3,704 466.9,709.4 477.6,714.9 488.4,720.5 499.4,726.1 510.4,731.7 521.5,737.4 532.7,743.2 544.1,749 555.5,754.8 567,760.8 578.7,766.7 590.4,772.8 602.3,778.8 614.3,785 626.4,791.2 638.6,797.4 650.9,803.7 663.4,810.1 675.9,816.6 688.6,823.1 701.4,829.6 714.4,836.3 727.4,843"/><polyline points="297.2,614 306.4,618.6 315.7,623.3 325,628.1 334.4,632.9 343.9,637.7 353.5,642.6 363.1,647.5 372.9,652.4 382.7,657.4 392.6,662.5 402.6,667.6 412.7,672.7 422.9,677.9 433.1,683.1 443.5,688.3 453.9,693.7 464.4,699 475.1,704.4 485.8,709.9 496.6,715.4 507.5,720.9 518.5,726.5 529.6,732.2 540.8,737.9 552.2,743.6 563.6,749.4 575.1,755.3 586.7,761.2 598.5,767.2 610.3,773.2 622.3,779.3 634.4,785.4 646.6,791.6 658.9,797.9 671.3,804.2 683.9,810.6 696.5,817.1 709.3,823.6 722.2,830.1 735.3,836.8"/><polyline points="305.4,609.7 314.6,614.3 323.8,619 333.2,623.7 342.6,628.4 352.1,633.2 361.6,638.1 371.3,642.9 381,647.9 390.9,652.8 400.8,657.8 410.7,662.9 420.8,668 431,673.1 441.2,678.3 451.6,683.5 462,688.7 472.5,694.1 483.1,699.4 493.9,704.8 504.7,710.3 515.6,715.8 526.6,721.3 537.7,726.9 548.9,732.6 560.2,738.3 571.6,744.1 583.1,749.9 594.7,755.7 606.5,761.7 618.3,767.6 630.3,773.7 642.3,779.8 654.5,785.9 666.8,792.1 679.2,798.4 691.7,804.7 704.4,811.1 717.2,817.6 730.1,824.1 743.1,830.6"/><polyline points="313.5,605.4 322.7,610 331.9,614.7 341.3,619.3 350.7,624.1 360.2,628.8 369.7,633.6 379.4,638.4 389.1,643.3 398.9,648.2 408.8,653.2 418.8,658.2 428.9,663.2 439,668.3 449.3,673.5 459.6,678.6 470,683.9 480.6,689.1 491.2,694.5 501.9,699.8 512.7,705.2 523.6,710.7 534.6,716.2 545.7,721.8 556.8,727.4 568.1,733 579.5,738.7 591,744.5 602.7,750.3 614.4,756.2 626.2,762.1 638.1,768.1 650.2,774.1 662.3,780.2 674.6,786.4 687,792.6 699.5,798.9 712.2,805.2 724.9,811.6 737.8,818 750.8,824.6"/><polyline points="321.5,601.2 330.7,605.8 340,610.4 349.3,615 358.7,619.7 368.2,624.4 377.8,629.2 387.4,634 397.1,638.8 407,643.7 416.8,648.6 426.8,653.6 436.9,658.6 447,663.6 457.3,668.7 467.6,673.9 478,679 488.5,684.3 499.1,689.5 509.8,694.9 520.6,700.2 531.5,705.6 542.5,711.1 553.6,716.6 564.8,722.2 576,727.8 587.4,733.5 598.9,739.2 610.5,744.9 622.2,750.8 634,756.6 645.9,762.6 658,768.6 670.1,774.6 682.4,780.7 694.8,786.9 707.3,793.1 719.9,799.3 732.6,805.7 745.5,812.1 758.5,818.5"/><polyline points="329.5,597 338.7,601.5 347.9,606.1 357.3,610.7 366.7,615.4 376.2,620 385.7,624.8 395.4,629.5 405.1,634.3 414.9,639.2 424.8,644.1 434.8,649 444.8,654 455,659 465.2,664 475.5,669.1 485.9,674.3 496.4,679.4 507,684.7 517.7,689.9 528.5,695.3 539.4,700.6 550.4,706.1 561.4,711.5 572.6,717 583.9,722.6 595.2,728.2 606.7,733.9 618.3,739.6 630,745.4 641.8,751.2 653.7,757.1 665.7,763 677.8,769 690.1,775.1 702.4,781.2 714.9,787.3 727.5,793.5 740.2,799.8 753.1,806.2 766,812.6"/><polyline points="337.4,592.8 346.6,597.3 355.9,601.9 365.2,606.5 374.6,611.1 384.1,615.7 393.6,620.4 403.3,625.1 413,629.9 422.8,634.7 432.7,639.5 442.7,644.4 452.7,649.4 462.8,654.3 473.1,659.3 483.4,664.4 493.8,669.5 504.3,674.6 514.9,679.8 525.5,685.1 536.3,690.3 547.2,695.7 558.1,701 569.2,706.5 580.4,711.9 591.6,717.5 603,723 614.5,728.7 626,734.3 637.7,740 649.5,745.8 661.4,751.7 673.4,757.5 685.5,763.5 697.7,769.5 710.1,775.5 722.5,781.6 735.1,787.8 747.8,794 760.6,800.3 773.6,806.7"/><polyline points="345.3,588.7 354.5,593.2 363.7,597.7 373,602.2 382.4,606.8 391.9,611.4 401.5,616.1 411.1,620.8 420.8,625.5 430.6,630.3 440.5,635.1 450.5,639.9 460.5,644.8 470.7,649.7 480.9,654.7 491.2,659.7 501.6,664.8 512.1,669.9 522.6,675 533.3,680.2 544.1,685.5 554.9,690.7 565.9,696.1 576.9,701.5 588.1,706.9 599.3,712.4 610.7,717.9 622.1,723.5 633.7,729.1 645.3,734.8 657.1,740.5 669,746.3 681,752.1 693.1,758 705.3,763.9 717.6,769.9 730.1,776 742.6,782.1 755.3,788.3 768.1,794.5 781,800.8"/><polyline points="353.1,584.6 362.3,589.1 371.5,593.5 380.8,598 390.2,602.6 399.7,607.1 409.3,611.8 418.9,616.4 428.6,621.1 438.4,625.8 448.3,630.6 458.2,635.4 468.3,640.3 478.4,645.2 488.6,650.1 498.9,655.1 509.3,660.1 519.8,665.2 530.4,670.3 541,675.4 551.8,680.6 562.6,685.9 573.6,691.2 584.6,696.5 595.7,701.9 607,707.3 618.3,712.8 629.7,718.3 641.3,723.9 652.9,729.5 664.7,735.2 676.5,740.9 688.5,746.7 700.6,752.5 712.8,758.4 725.1,764.4 737.5,770.4 750.1,776.4 762.7,782.6 775.5,788.7 788.4,795"/><polyline points="360.9,580.6 370,585 379.3,589.4 388.6,593.9 398,598.4 407.5,602.9 417,607.5 426.6,612.1 436.3,616.8 446.1,621.5 456,626.2 465.9,631 476,635.8 486.1,640.6 496.3,645.5 506.6,650.5 517,655.5 527.4,660.5 538,665.6 548.6,670.7 559.4,675.8 570.2,681 581.2,686.3 592.2,691.6 603.3,696.9 614.5,702.3 625.9,707.7 637.3,713.2 648.8,718.7 660.5,724.3 672.2,729.9 684,735.6 696,741.4 708.1,747.1 720.2,753 732.5,758.9 744.9,764.8 757.4,770.8 770.1,776.9 782.8,783 795.7,789.2"/><polyline points="368.5,576.5 377.7,580.9 387,585.3 396.3,589.7 405.7,594.2 415.1,598.7 424.7,603.3 434.3,607.8 444,612.5 453.8,617.1 463.6,621.8 473.6,626.6 483.6,631.3 493.7,636.2 503.9,641 514.2,645.9 524.6,650.9 535,655.8 545.6,660.9 556.2,665.9 567,671 577.8,676.2 588.7,681.4 599.7,686.7 610.8,692 622.1,697.3 633.4,702.7 644.8,708.1 656.3,713.6 667.9,719.1 679.6,724.7 691.5,730.4 703.4,736.1 715.4,741.8 727.6,747.6 739.9,753.4 752.3,759.3 764.8,765.3 777.4,771.3 790.1,777.4 803,783.5"/><polyline points="376.2,572.5 385.3,576.8 394.6,581.2 403.9,585.6 413.3,590.1 422.7,594.5 432.3,599 441.9,603.6 451.6,608.2 461.4,612.8 471.2,617.5 481.2,622.2 491.2,626.9 501.3,631.7 511.5,636.5 521.8,641.4 532.1,646.3 542.6,651.2 553.1,656.2 563.7,661.2 574.5,666.3 585.3,671.4 596.2,676.6 607.2,681.8 618.3,687.1 629.5,692.4 640.8,697.7 652.2,703.1 663.7,708.5 675.3,714 687,719.6 698.8,725.2 710.7,730.8 722.8,736.5 734.9,742.2 747.2,748 759.5,753.9 772,759.8 784.6,765.7 797.3,771.8 810.2,777.8"/><polyline points="383.8,568.5 392.9,572.8 402.2,577.2 411.5,581.5 420.8,585.9 430.3,590.4 439.8,594.9 449.5,599.4 459.1,603.9 468.9,608.5 478.8,613.2 488.7,617.8 498.7,622.5 508.8,627.3 519,632.1 529.3,636.9 539.6,641.8 550.1,646.7 560.6,651.6 571.2,656.6 581.9,661.6 592.7,666.7 603.6,671.8 614.6,677 625.7,682.2 636.9,687.5 648.2,692.8 659.6,698.1 671.1,703.5 682.6,709 694.3,714.4 706.1,720 718,725.6 730.1,731.2 742.2,736.9 754.4,742.7 766.8,748.5 779.2,754.3 791.8,760.2 804.5,766.2 817.3,772.2"/><polyline points="391.3,564.6 400.4,568.8 409.7,573.2 419,577.5 428.4,581.9 437.8,586.3 447.3,590.7 456.9,595.2 466.6,599.7 476.4,604.3 486.2,608.9 496.2,613.5 506.2,618.2 516.3,622.9 526.4,627.6 536.7,632.4 547,637.3 557.5,642.1 568,647 578.6,652 589.3,657 600.1,662 611,667.1 622,672.2 633.1,677.4 644.2,682.6 655.5,687.9 666.9,693.2 678.3,698.5 689.9,703.9 701.6,709.4 713.4,714.9 725.3,720.4 737.3,726 749.4,731.7 761.6,737.4 773.9,743.1 786.4,748.9 798.9,754.8 811.6,760.7 824.4,766.7"/><polyline points="398.8,560.7 407.9,564.9 417.1,569.2 426.4,573.5 435.8,577.8 445.3,582.2 454.8,586.6 464.4,591.1 474.1,595.6 483.8,600.1 493.7,604.6 503.6,609.2 513.6,613.9 523.7,618.5 533.8,623.2 544.1,628 554.4,632.8 564.8,637.6 575.4,642.5 586,647.4 596.6,652.4 607.4,657.4 618.3,662.4 629.3,667.5 640.3,672.6 651.5,677.8 662.8,683 674.1,688.3 685.6,693.6 697.1,698.9 708.8,704.3 720.6,709.8 732.4,715.3 744.4,720.8 756.5,726.4 768.7,732.1 781,737.8 793.4,743.6 806,749.4 818.6,755.2 831.4,761.1"/><polyline points="406.2,556.8 415.3,561 424.6,565.2 433.8,569.5 443.2,573.8 452.7,578.2 462.2,582.5 471.8,587 481.4,591.4 491.2,595.9 501,600.4 510.9,605 520.9,609.6 531,614.2 541.2,618.9 551.4,623.6 561.7,628.4 572.1,633.2 582.7,638 593.2,642.9 603.9,647.8 614.7,652.7 625.6,657.7 636.5,662.8 647.6,667.9 658.7,673 670,678.2 681.3,683.4 692.7,688.7 704.3,694 715.9,699.3 727.7,704.7 739.5,710.2 751.5,715.7 763.6,721.3 775.8,726.9 788,732.5 800.4,738.2 813,744 825.6,749.8 838.3,755.7"/><polyline points="413.5,552.8 422.7,557 431.9,561.3 441.2,565.5 450.6,569.8 460,574.1 469.5,578.5 479.1,582.9 488.8,587.3 498.5,591.7 508.3,596.2 518.2,600.8 528.2,605.3 538.3,609.9 548.4,614.6 558.7,619.2 569,624 579.4,628.7 589.9,633.5 600.5,638.4 611.1,643.2 621.9,648.1 632.8,653.1 643.7,658.1 654.7,663.2 665.9,668.3 677.1,673.4 688.4,678.6 699.9,683.8 711.4,689.1 723,694.4 734.8,699.7 746.6,705.2 758.5,710.6 770.6,716.1 782.7,721.7 795,727.3 807.4,733 819.9,738.7 832.5,744.4 845.2,750.2"/><polyline points="420.6,545 429.9,551.6 439.2,556.8 448.5,561.4 457.9,565.8 467.3,570.1 476.8,574.4 486.4,578.8 496,583.2 505.8,587.6 515.6,592.1 525.5,596.6 535.5,601.1 545.5,605.7 555.7,610.3 565.9,614.9 576.2,619.6 586.6,624.3 597.1,629.1 607.6,633.9 618.3,638.7 629.1,643.6 639.9,648.5 650.8,653.5 661.9,658.5 673,663.5 684.2,668.6 695.5,673.8 706.9,679 718.4,684.2 730,689.5 741.8,694.8 753.6,700.2 765.5,705.6 777.5,711 789.7,716.5 801.9,722.1 814.3,727.7 826.8,733.4 839.4,739.1 852.1,744.9"/><polyline points="421.2,416.8 434,487.3 445.1,526.9 455.2,547 464.9,557.7 474.5,564.5 484,569.8 493.6,574.5 503.3,579 513,583.5 522.8,587.9 532.7,592.4 542.7,596.9 552.7,601.4 562.8,606 573.1,610.6 583.4,615.3 593.7,620 604.2,624.7 614.8,629.4 625.4,634.2 636.2,639.1 647,644 657.9,648.9 668.9,653.9 680,658.9 691.2,663.9 702.5,669 713.9,674.2 725.4,679.4 737,684.6 748.7,689.9 760.5,695.2 772.4,700.6 784.4,706 796.6,711.4 808.8,717 821.1,722.5 833.6,728.1 846.2,733.8 858.8,739.5"/><polyline points="415.8,167.3 427.1,198.5 439.8,258.4 453.6,348.6 467.3,441.8 479.5,507.5 490.3,543.4 500.4,561.5 510.3,571.5 520.1,578 529.9,583.3 539.8,588.1 549.8,592.7 559.8,597.2 570,601.8 580.2,606.4 590.4,611 600.8,615.6 611.3,620.3 621.8,625 632.5,629.8 643.2,634.6 654,639.5 664.9,644.3 675.9,649.3 687,654.2 698.2,659.3 709.5,664.3 720.9,669.4 732.3,674.6 743.9,679.7 755.6,685 767.4,690.3 779.3,695.6 791.3,701 803.4,706.4 815.6,711.9 827.9,717.4 840.4,723 852.9,728.6 865.6,734.2"/><polyline points="422.7,145.2 432.7,149.2 442.9,155 453.4,165.3 464.3,186.2 476.1,229.2 489,304.7 502.3,401.8 514.9,485.7 526.2,537.4 536.6,564.2 546.8,578 556.8,586.2 566.9,592.1 577,597.2 587.2,602 597.5,606.7 607.9,611.3 618.3,616 628.8,620.7 639.5,625.4 650.2,630.2 661,635 671.9,639.8 682.9,644.7 693.9,649.6 705.1,654.6 716.4,659.6 727.8,664.7 739.2,669.8 750.8,674.9 762.5,680.1 774.2,685.4 786.1,690.7 798.1,696 810.2,701.4 822.3,706.8 834.6,712.3 847.1,717.8 859.6,723.4 872.2,729"/><polyline points="430.6,142 440.5,144.8 450.6,147.8 460.8,151 471,154.8 481.4,160.2 492.1,169.5 503,188.1 514.6,226.6 526.9,296.8 539.6,393.1 551.8,482.4 563,540.1 573.6,570.5 583.9,586.1 594.2,595.1 604.5,601.4 614.8,606.6 625.3,611.5 635.8,616.3 646.4,621 657.1,625.7 667.9,630.5 678.8,635.3 689.8,640.2 700.8,645.1 712,650 723.2,655 734.6,660 746,665.1 757.6,670.2 769.2,675.3 781,680.5 792.8,685.8 804.8,691.1 816.9,696.4 829,701.8 841.3,707.2 853.7,712.7 866.2,718.2 878.8,723.8"/><polyline points="438.4,139.4 448.4,142.1 458.4,144.9 468.6,147.8 478.8,150.7 489.1,153.7 499.5,157.1 510,161.3 520.7,167.6 531.6,179.1 542.8,202.5 554.4,249.8 566.5,330.5 578.6,429.4 590,510.7 600.8,559.3 611.3,584.2 621.7,597.2 632.2,605.2 642.7,611.2 653.3,616.3 664,621.2 674.8,626.1 685.6,630.9 696.6,635.7 707.7,640.6 718.8,645.5 730,650.4 741.4,655.4 752.8,660.4 764.3,665.5 776,670.6 787.7,675.7 799.5,680.9 811.5,686.2 823.5,691.5 835.7,696.8 847.9,702.2 860.3,707.6 872.8,713.1 885.4,718.6"/><polyline points="446.2,136.8 456.2,139.6 466.2,142.3 476.3,145.1 486.5,147.9 496.9,150.8 507.2,153.7 517.7,156.8 528.3,160.1 539,164.2 549.8,170 560.8,180.3 572,201.2 583.4,243.9 595.2,319.5 606.7,418.2 617.9,504.7 628.6,558.7 639.1,586.7 649.6,601.2 660.2,609.8 670.8,616 681.6,621.3 692.4,626.3 703.4,631.2 714.4,636 725.6,640.9 736.8,645.8 748.1,650.8 759.5,655.8 771,660.8 782.7,665.9 794.4,671 806.2,676.1 818.1,681.3 830.1,686.6 842.3,691.9 854.5,697.2 866.9,702.6 879.3,708 891.9,713.5"/><polyline points="453.9,134.3 463.9,137 473.9,139.8 484,142.5 494.2,145.3 504.5,148.1 514.9,151 525.4,153.9 536,156.9 546.6,160 557.4,163.6 568.2,168.1 579.2,175.2 590.4,188.5 601.6,215.8 613.1,270 624.4,357.3 635.4,456.1 646,531.4 656.5,574.4 667,596.3 677.7,608.1 688.4,615.6 699.2,621.4 710.1,626.6 721.2,631.5 732.3,636.4 743.5,641.3 754.8,646.2 766.2,651.1 777.7,656.1 789.3,661.2 801,666.2 812.8,671.4 824.7,676.5 836.7,681.7 848.8,687 861,692.3 873.3,697.6 885.8,703 898.3,708.5"/><polyline points="461.6,131.8 471.5,134.5 481.6,137.2 491.7,140 501.9,142.7 512.2,145.5 522.5,148.3 533,151.2 543.6,154.1 554.2,157.1 564.9,160.2 575.8,163.6 586.7,168 597.8,174.5 608.9,186.4 620.2,210.7 631.5,259.8 642.6,342.4 653.3,441.9 663.6,522.6 674,570.3 684.5,594.8 695.2,607.7 705.9,615.6 716.8,621.6 727.8,626.9 738.9,631.8 750.1,636.7 761.4,641.6 772.8,646.6 784.3,651.5 795.9,656.5 807.5,661.5 819.3,666.6 831.2,671.7 843.2,676.9 855.3,682.1 867.5,687.4 879.8,692.7 892.2,698 904.7,703.4"/><polyline points="469.2,129.3 479.1,132 489.2,134.7 499.3,137.4 509.5,140.1 519.7,142.9 530.1,145.7 540.6,148.5 551.1,151.4 561.7,154.3 572.5,157.3 583.3,160.5 594.2,164 605.2,168.7 616.4,176 627.6,189.7 638.8,218.2 649.9,274.1 660.7,362.8 671,461.2 681.1,534.8 691.4,576.4 701.9,597.6 712.6,609 723.5,616.4 734.5,622.1 745.5,627.3 756.7,632.2 768,637.1 779.4,642 790.8,646.9 802.4,651.9 814,656.9 825.8,661.9 837.7,667 849.6,672.1 861.7,677.3 873.9,682.5 886.2,687.8 898.6,693.1 911.1,698.4"/><polyline points="476.7,126.8 486.7,129.5 496.7,132.2 506.8,134.9 517,137.6 527.3,140.3 537.6,143.1 548.1,145.9 558.6,148.7 569.2,151.6 579.9,154.5 590.7,157.6 601.7,160.9 612.7,164.9 623.8,170.5 634.9,180.2 646.2,199.7 657.3,239.8 668.1,312.4 678.3,410.3 688.3,499.6 698.3,556.6 708.7,586.6 719.3,602 730.1,611 741,617.4 752.1,622.7 763.3,627.7 774.5,632.6 785.9,637.5 797.3,642.4 808.9,647.3 820.5,652.3 832.2,657.3 844.1,662.3 856,667.4 868.1,672.5 880.2,677.7 892.5,682.9 904.9,688.2 917.3,693.5"/><polyline points="484.2,124.4 494.2,127 504.2,129.7 514.3,132.4 524.4,135.1 534.7,137.8 545.1,140.5 555.5,143.3 566,146.1 576.6,149 587.3,151.9 598.1,154.8 609,158 620,161.7 631.1,166.6 642.3,174.5 653.5,189.9 664.6,221.7 675.4,282.8 685.6,375.1 695.4,471.1 705.2,539 715.4,576.3 725.9,595.2 736.7,605.7 747.6,612.6 758.6,618.2 769.8,623.3 781,628.2 792.3,633 803.8,637.9 815.3,642.8 826.9,647.7 838.6,652.6 850.5,657.6 862.4,662.7 874.4,667.8 886.5,672.9 898.8,678.1 911.1,683.3 923.6,688.6"/><polyline points="491.7,121.9 501.6,124.6 511.6,127.2 521.7,129.9 531.9,132.6 542.1,135.3 552.5,138 562.9,140.7 573.4,143.5 584,146.3 594.7,149.2 605.5,152.1 616.4,155.2 627.3,158.8 638.4,163.3 649.5,170.3 660.7,183.6 671.9,210.9 682.6,265.1 692.8,352.1 702.4,450.2 712,524.9 722.1,567.4 732.5,589.1 743.2,600.7 754.1,608 765.1,613.8 776.2,618.9 787.4,623.8 798.7,628.6 810.1,633.4 821.7,638.3 833.3,643.1 845,648.1 856.8,653 868.7,658 880.7,663.1 892.8,668.2 905,673.3 917.3,678.5 929.8,683.7"/><polyline points="499.1,119.5 509,122.1 519,124.8 529,127.4 539.2,130.1 549.5,132.7 559.8,135.5 570.2,138.2 580.7,140.9 591.3,143.7 602,146.6 612.8,149.5 623.6,152.5 634.6,156 645.6,160.3 656.8,166.8 667.9,178.9 679,203.8 689.8,253.7 699.9,336.9 709.3,435.5 718.8,514 728.7,560 739,583.5 749.6,595.9 760.5,603.6 771.5,609.4 782.6,614.5 793.8,619.4 805.1,624.2 816.5,629 828,633.8 839.6,638.6 851.3,643.5 863,648.4 874.9,653.4 886.9,658.4 899,663.5 911.2,668.6 923.5,673.7 935.9,678.9"/><polyline points="506.4,117.1 516.3,119.7 526.3,122.3 536.3,124.9 546.5,127.6 556.7,130.2 567.1,132.9 577.5,135.7 588,138.4 598.5,141.2 609.2,144 620,146.8 630.8,149.9 641.8,153.2 652.8,157.4 663.9,163.7 675.1,175.1 686.1,198.5 696.8,245.9 706.8,326.5 716.1,424.9 725.4,505.6 735.2,553.7 745.4,578.4 756.1,591.3 766.9,599.2 777.9,605.1 788.9,610.2 800.1,615.1 811.4,619.8 822.8,624.6 834.3,629.3 845.8,634.1 857.5,639 869.3,643.9 881.1,648.8 893.1,653.8 905.2,658.8 917.3,663.8 929.6,668.9 942,674.1"/><polyline points="513.7,114.8 523.6,117.3 533.5,119.9 543.6,122.5 553.7,125.1 564,127.8 574.3,130.4 584.7,133.1 595.2,135.8 605.7,138.6 616.4,141.4 627.2,144.2 638,147.2 648.9,150.5 660,154.6 671.1,160.7 682.2,171.7 693.2,194.3 703.8,240.1 713.7,318.9 722.9,417 732,498.9 741.6,548.3 751.8,573.7 762.4,586.9 773.2,594.9 784.2,600.8 795.2,605.9 806.4,610.7 817.7,615.5 829,620.2 840.5,624.9 852,629.7 863.7,634.5 875.4,639.4 887.3,644.3 899.2,649.2 911.3,654.2 923.4,659.2 935.7,664.2 948,669.3"/><polyline points="520.9,112.4 530.8,114.9 540.7,117.5 550.8,120.1 560.9,122.7 571.1,125.3 581.4,128 591.8,130.6 602.3,133.3 612.9,136.1 623.5,138.8 634.3,141.6 645.1,144.6 656,147.9 667,151.9 678.1,157.9 689.2,168.7 700.2,190.7 710.8,235.5 720.5,313.1 729.5,410.8 738.5,493.3 748,543.5 758.2,569.3 768.7,582.6 779.5,590.7 790.4,596.6 801.5,601.7 812.6,606.5 823.9,611.2 835.2,615.9 846.7,620.6 858.2,625.3 869.8,630.1 881.5,634.9 893.4,639.7 905.3,644.6 917.3,649.6 929.5,654.5 941.7,659.5 954,664.6"/><polyline points="528,110.1 537.9,112.6 547.9,115.1 557.9,117.7 568.1,120.3 578.3,122.9 588.6,125.5 598.9,128.2 609.4,130.8 620,133.5 630.6,136.3 641.3,139.1 652.1,142 663.1,145.3 674,149.3 685.1,155.1 696.2,165.7 707.1,187.4 717.6,231.5 727.3,308.4 736.1,405.7 744.9,488.5 754.4,539 764.5,565 775,578.5 785.7,586.5 796.7,592.4 807.7,597.5 818.8,602.2 830,606.9 841.4,611.6 852.8,616.2 864.3,620.9 875.9,625.7 887.6,630.4 899.4,635.2 911.3,640.1 923.3,645 935.5,649.9 947.7,654.9 960,659.9"/><polyline points="535.1,107.7 545,110.2 555,112.8 565,115.3 575.1,117.9 585.3,120.5 595.6,123.1 606,125.7 616.4,128.3 627,131 637.6,133.8 648.3,136.5 659.1,139.4 670,142.7 681,146.6 692,152.5 703.1,162.9 714,184.3 724.4,228 734,304.2 742.7,401.2 751.3,484.1 760.7,534.7 770.7,560.8 781.2,574.4 791.9,582.4 802.8,588.3 813.8,593.3 825,598 836.2,602.7 847.5,607.3 858.9,611.9 870.4,616.6 882,621.3 893.7,626 905.4,630.8 917.3,635.6 929.3,640.5 941.4,645.4 953.6,650.3 965.9,655.3"/><polyline points="542.2,105.4 552.1,107.9 562,110.4 572,112.9 582.2,115.5 592.3,118.1 602.6,120.6 613,123.3 623.4,125.9 634,128.5 644.6,131.2 655.3,134 666.1,136.9 677,140.1 687.9,144 698.9,149.8 710,160.2 720.8,181.4 731.2,224.7 740.6,300.5 749.1,397.2 757.7,479.9 766.9,530.6 776.9,556.8 787.4,570.3 798.1,578.3 809,584.2 819.9,589.2 831,593.9 842.2,598.5 853.5,603 864.9,607.6 876.4,612.3 888,616.9 899.6,621.6 911.4,626.4 923.3,631.2 935.2,636 947.3,640.8 959.5,645.7 971.7,650.7"/><polyline points="549.2,103.1 559.1,105.6 569,108.1 579,110.6 589.1,113.1 599.3,115.7 609.6,118.2 619.9,120.8 630.4,123.4 640.9,126.1 651.5,128.8 662.2,131.5 673,134.4 683.8,137.5 694.8,141.4 705.8,147.2 716.8,157.5 727.6,178.5 737.9,221.6 747.2,297 755.6,393.4 764,476 773.1,526.7 783.1,552.8 793.5,566.3 804.2,574.3 815,580.1 826,585.1 837.1,589.7 848.3,594.3 859.5,598.8 870.9,603.4 882.4,608 893.9,612.6 905.6,617.3 917.3,622 929.2,626.7 941.1,631.5 953.2,636.3 965.3,641.2 977.5,646.1"/><polyline points="556.2,100.9 566,103.3 576,105.8 586,108.3 596.1,110.8 606.2,113.3 616.5,115.9 626.8,118.4 637.2,121 647.7,123.6 658.3,126.3 669,129 679.8,131.9 690.6,135 701.6,138.9 712.6,144.6 723.5,154.8 734.3,175.8 744.5,218.6 753.7,293.7 761.9,389.8 770.2,472.2 779.3,522.8 789.2,548.9 799.6,562.3 810.2,570.3 821.1,576.1 832,581 843.1,585.6 854.3,590.1 865.5,594.7 876.9,599.2 888.3,603.8 899.8,608.3 911.5,613 923.2,617.6 935,622.3 946.9,627.1 959,631.9 971.1,636.7 983.3,641.6"/><polyline points="563.1,98.6 572.9,101 582.8,103.5 592.8,106 602.9,108.4 613.1,111 623.3,113.5 633.7,116 644.1,118.6 654.6,121.2 665.1,123.9 675.8,126.6 686.6,129.4 697.4,132.5 708.3,136.3 719.3,142 730.2,152.2 741,173 751.1,215.7 760.2,290.5 768.3,386.2 776.4,468.5 785.4,518.9 795.2,545 805.6,558.4 816.2,566.3 827.1,572 838,576.9 849.1,581.5 860.2,586 871.4,590.5 882.8,595 894.2,599.5 905.7,604.1 917.3,608.7 929,613.3 940.8,618 952.7,622.7 964.7,627.5 976.8,632.2 989,637.1"/><polyline points="569.9,96.4 579.8,98.8 589.7,101.2 599.7,103.7 609.7,106.1 619.9,108.6 630.1,111.1 640.4,113.7 650.8,116.2 661.3,118.8 671.9,121.4 682.5,124.1 693.3,126.9 704.1,130 715,133.8 726,139.5 736.9,149.6 747.6,170.3 757.7,212.8 766.6,287.4 774.5,382.8 782.5,464.8 791.5,515.1 801.3,541.1 811.6,554.4 822.2,562.4 833,568.1 843.9,572.9 855,577.5 866.1,582 877.3,586.4 888.6,590.9 900,595.4 911.5,599.9 923.1,604.4 934.8,609 946.6,613.7 958.5,618.4 970.4,623.1 982.5,627.8 994.7,632.6"/><polyline points="576.7,94.1 586.6,96.5 596.5,98.9 606.5,101.4 616.5,103.8 626.7,106.3 636.9,108.8 647.2,111.3 657.6,113.8 668,116.4 678.6,119 689.2,121.7 700,124.5 710.8,127.5 721.7,131.3 732.6,136.9 743.5,147 754.1,167.7 764.1,210 773,284.3 780.8,379.4 788.6,461.2 797.5,511.4 807.2,537.3 817.5,550.6 828.1,558.4 838.9,564.1 849.8,568.9 860.8,573.5 872,577.9 883.2,582.3 894.5,586.8 905.8,591.2 917.3,595.7 928.9,600.2 940.5,604.8 952.3,609.4 964.2,614 976.1,618.7 988.2,623.4 1000.3,628.2"/><polyline points="583.5,91.9 593.3,94.3 603.2,96.7 613.2,99.1 623.2,101.6 633.4,104 643.6,106.5 653.9,109 664.2,111.5 674.7,114 685.2,116.6 695.9,119.3 706.6,122 717.4,125.1 728.3,128.8 739.2,134.4 750,144.5 760.7,165 770.6,207.2 779.3,281.2 786.9,376.1 794.7,457.6 803.5,507.7 813.2,533.5 823.4,546.7 834,554.5 844.8,560.2 855.7,565 866.7,569.5 877.8,573.9 889,578.3 900.2,582.7 911.6,587.1 923,591.5 934.6,596 946.2,600.6 958,605.1 969.8,609.7 981.8,614.4 993.8,619.1 1005.9,623.8"/><polyline points="590.2,89.7 600,92.1 609.9,94.5 619.9,96.9 629.9,99.3 640,101.7 650.2,104.2 660.5,106.7 670.9,109.2 681.3,111.7 691.9,114.2 702.5,116.9 713.2,119.6 724,122.6 734.8,126.4 745.7,131.9 756.5,141.9 767.1,162.4 777,204.5 785.6,278.2 793.1,372.8 800.7,454.1 809.4,504 819.1,529.7 829.3,542.9 839.9,550.7 850.6,556.3 861.5,561.1 872.5,565.5 883.5,569.9 894.7,574.2 906,578.6 917.3,583 928.7,587.4 940.3,591.9 951.9,596.4 963.6,600.9 975.4,605.5 987.3,610.1 999.4,614.7 1011.5,619.4"/><polyline points="596.9,87.5 606.7,89.9 616.5,92.3 626.5,94.6 636.5,97 646.6,99.5 656.8,101.9 667.1,104.4 677.5,106.8 687.9,109.3 698.4,111.9 709,114.5 719.7,117.2 730.5,120.2 741.3,124 752.2,129.5 763,139.4 773.5,159.8 783.3,201.7 791.8,275.2 799.2,369.5 806.7,450.6 815.3,500.3 824.9,525.9 835.1,539.1 845.7,546.8 856.4,552.4 867.3,557.2 878.2,561.6 889.3,565.9 900.4,570.2 911.7,574.6 923,578.9 934.4,583.3 945.9,587.8 957.5,592.2 969.2,596.7 981,601.3 992.9,605.8 1004.9,610.4 1017,615.1"/><polyline points="603.5,85.4 613.3,87.7 623.1,90.1 633.1,92.4 643.1,94.8 653.2,97.2 663.4,99.6 673.6,102.1 684,104.5 694.4,107 704.9,109.5 715.5,112.1 726.2,114.8 736.9,117.8 747.8,121.5 758.6,127 769.4,136.9 779.9,157.3 789.6,199 798,272.3 805.2,366.2 812.6,447.1 821.1,496.7 830.7,522.2 840.9,535.3 851.4,543 862.1,548.6 873,553.3 883.9,557.7 895,562 906.1,566.3 917.3,570.6 928.6,574.9 940,579.3 951.5,583.7 963.1,588.1 974.8,592.6 986.5,597.1 998.4,601.6 1010.4,606.2 1022.4,610.8"/></g><circle cx="651.4" cy="122.3" r="16.3" fill="url(#ball_g)"/><circle cx="615.9" cy="123.7" r="16.3" fill="url(#ball_b)"/><circle cx="650" cy="127.2" r="16.3" fill="url(#ball_b)"/><circle cx="650" cy="141.8" r="16.3" fill="url(#ball_g)"/><circle cx="550.7" cy="507.8" r="16.3" fill="url(#ball_r)"/><circle cx="646" cy="378" r="16.3" fill="url(#ball_g)"/><circle cx="643.6" cy="563" r="16.3" fill="url(#ball_g)"/><circle cx="772" cy="572" r="16.3" fill="url(#ball_b)"/><circle cx="805" cy="592" r="16.3" fill="url(#ball_b)"/><circle cx="842" cy="598" r="16.3" fill="url(#ball_b)"/><line x1="236" y1="698.2" x2="177.3" y2="156.7" stroke="#000" stroke-width="2.6"/><line x1="236" y1="698.2" x2="674.8" y2="944.8" stroke="#000" stroke-width="2.6"/><line x1="674.8" y1="944.8" x2="1020.7" y2="660.9" stroke="#000" stroke-width="2.6"/><line x1="236" y1="698.2" x2="226.3" y2="703.6" stroke="#000" stroke-width="2.2"/><line x1="233.6" y1="675.6" x2="228.3" y2="678.4" stroke="#000" stroke-width="2.2"/><line x1="231.1" y1="652.7" x2="225.8" y2="655.5" stroke="#000" stroke-width="2.2"/><line x1="228.6" y1="629.5" x2="223.3" y2="632.2" stroke="#000" stroke-width="2.2"/><line x1="226" y1="606" x2="220.7" y2="608.7" stroke="#000" stroke-width="2.2"/><line x1="223.5" y1="582.2" x2="213.3" y2="587.2" stroke="#000" stroke-width="2.2"/><line x1="220.9" y1="558.2" x2="215.4" y2="560.8" stroke="#000" stroke-width="2.2"/><line x1="218.2" y1="533.8" x2="212.7" y2="536.4" stroke="#000" stroke-width="2.2"/><line x1="215.5" y1="509.1" x2="210" y2="511.6" stroke="#000" stroke-width="2.2"/><line x1="212.8" y1="484.1" x2="207.3" y2="486.6" stroke="#000" stroke-width="2.2"/><line x1="210.1" y1="458.7" x2="199.5" y2="463.3" stroke="#000" stroke-width="2.2"/><line x1="207.3" y1="433.1" x2="201.6" y2="435.5" stroke="#000" stroke-width="2.2"/><line x1="204.5" y1="407.1" x2="198.8" y2="409.4" stroke="#000" stroke-width="2.2"/><line x1="201.6" y1="380.7" x2="195.9" y2="383" stroke="#000" stroke-width="2.2"/><line x1="198.7" y1="354" x2="192.9" y2="356.3" stroke="#000" stroke-width="2.2"/><line x1="195.8" y1="327" x2="184.8" y2="331.1" stroke="#000" stroke-width="2.2"/><line x1="192.8" y1="299.5" x2="186.9" y2="301.7" stroke="#000" stroke-width="2.2"/><line x1="189.8" y1="271.8" x2="183.9" y2="273.8" stroke="#000" stroke-width="2.2"/><line x1="186.8" y1="243.6" x2="180.8" y2="245.6" stroke="#000" stroke-width="2.2"/><line x1="183.7" y1="215" x2="177.6" y2="217" stroke="#000" stroke-width="2.2"/><line x1="180.5" y1="186.1" x2="169.1" y2="189.6" stroke="#000" stroke-width="2.2"/><line x1="177.3" y1="156.7" x2="171.2" y2="158.6" stroke="#000" stroke-width="2.2"/><line x1="236" y1="698.2" x2="226.3" y2="703.6" stroke="#000" stroke-width="2.2"/><line x1="254.4" y1="708.6" x2="249.2" y2="711.5" stroke="#000" stroke-width="2.2"/><line x1="273.1" y1="719.1" x2="267.9" y2="722" stroke="#000" stroke-width="2.2"/><line x1="292.2" y1="729.8" x2="287" y2="732.8" stroke="#000" stroke-width="2.2"/><line x1="311.5" y1="740.6" x2="306.3" y2="743.7" stroke="#000" stroke-width="2.2"/><line x1="331.2" y1="751.7" x2="321.5" y2="757.6" stroke="#000" stroke-width="2.2"/><line x1="351.3" y1="763" x2="346.1" y2="766.2" stroke="#000" stroke-width="2.2"/><line x1="371.7" y1="774.5" x2="366.5" y2="777.7" stroke="#000" stroke-width="2.2"/><line x1="392.5" y1="786.2" x2="387.3" y2="789.4" stroke="#000" stroke-width="2.2"/><line x1="413.7" y1="798" x2="408.5" y2="801.4" stroke="#000" stroke-width="2.2"/><line x1="435.2" y1="810.2" x2="425.5" y2="816.6" stroke="#000" stroke-width="2.2"/><line x1="457.2" y1="822.5" x2="452" y2="826" stroke="#000" stroke-width="2.2"/><line x1="479.5" y1="835.1" x2="474.4" y2="838.6" stroke="#000" stroke-width="2.2"/><line x1="502.3" y1="847.9" x2="497.2" y2="851.5" stroke="#000" stroke-width="2.2"/><line x1="525.5" y1="860.9" x2="520.4" y2="864.6" stroke="#000" stroke-width="2.2"/><line x1="549.2" y1="874.2" x2="539.6" y2="881.3" stroke="#000" stroke-width="2.2"/><line x1="573.4" y1="887.8" x2="568.3" y2="891.6" stroke="#000" stroke-width="2.2"/><line x1="598" y1="901.6" x2="592.9" y2="905.5" stroke="#000" stroke-width="2.2"/><line x1="623.1" y1="915.8" x2="618" y2="919.7" stroke="#000" stroke-width="2.2"/><line x1="648.7" y1="930.2" x2="643.6" y2="934.2" stroke="#000" stroke-width="2.2"/><line x1="674.8" y1="944.8" x2="665.4" y2="952.6" stroke="#000" stroke-width="2.2"/><line x1="674.8" y1="944.8" x2="686.8" y2="951.5" stroke="#000" stroke-width="2.2"/><line x1="695.5" y1="927.9" x2="701.8" y2="931.4" stroke="#000" stroke-width="2.2"/><line x1="715.7" y1="911.3" x2="722" y2="914.7" stroke="#000" stroke-width="2.2"/><line x1="735.5" y1="895.1" x2="741.7" y2="898.4" stroke="#000" stroke-width="2.2"/><line x1="754.8" y1="879.2" x2="761" y2="882.5" stroke="#000" stroke-width="2.2"/><line x1="773.6" y1="863.7" x2="785.3" y2="869.7" stroke="#000" stroke-width="2.2"/><line x1="792.1" y1="848.6" x2="798.3" y2="851.7" stroke="#000" stroke-width="2.2"/><line x1="810.2" y1="833.7" x2="816.3" y2="836.8" stroke="#000" stroke-width="2.2"/><line x1="827.9" y1="819.2" x2="834" y2="822.2" stroke="#000" stroke-width="2.2"/><line x1="845.2" y1="805" x2="851.3" y2="807.9" stroke="#000" stroke-width="2.2"/><line x1="862.1" y1="791.1" x2="873.5" y2="796.5" stroke="#000" stroke-width="2.2"/><line x1="878.7" y1="777.5" x2="884.8" y2="780.3" stroke="#000" stroke-width="2.2"/><line x1="894.9" y1="764.1" x2="901" y2="766.9" stroke="#000" stroke-width="2.2"/><line x1="910.9" y1="751.1" x2="916.9" y2="753.8" stroke="#000" stroke-width="2.2"/><line x1="926.5" y1="738.3" x2="932.4" y2="740.9" stroke="#000" stroke-width="2.2"/><line x1="941.8" y1="725.7" x2="952.9" y2="730.6" stroke="#000" stroke-width="2.2"/><line x1="956.7" y1="713.4" x2="962.7" y2="715.9" stroke="#000" stroke-width="2.2"/><line x1="971.4" y1="701.4" x2="977.3" y2="703.8" stroke="#000" stroke-width="2.2"/><line x1="985.8" y1="689.5" x2="991.7" y2="692" stroke="#000" stroke-width="2.2"/><line x1="1000" y1="677.9" x2="1005.8" y2="680.3" stroke="#000" stroke-width="2.2"/><line x1="1013.8" y1="666.5" x2="1024.8" y2="670.9" stroke="#000" stroke-width="2.2"/><rect x="1481.4" y="144.61" width="815.5" height="652.29" fill="#8c8c8c"/><polygon points="1481.4,427.7 1491.7,426.4 1501.9,425.1 1512.1,423.8 1522.2,422.6 1532.3,421.3 1542.3,420 1552.2,418.7 1562.1,417.4 1571.8,416.1 1581.5,414.8 1591.1,413.5 1600.6,412.2 1610.1,411 1619.4,409.7 1628.6,408.4 1637.7,407.1 1646.7,405.8 1655.6,404.5 1664.4,403.2 1673.1,401.9 1681.6,400.6 1690,399.3 1698.3,398.1 1706.4,396.8 1714.4,395.5 1722.2,394.2 1729.9,392.9 1737.4,391.6 1744.8,390.3 1752,389 1759,387.7 1765.9,386.4 1772.6,385.2 1779.1,383.9 1785.5,382.6 1791.7,381.3 1797.7,380 1803.5,378.7 1809.2,377.4 1814.6,376.1 1820,374.8 1825.1,373.5 1830,372.3 1834.8,371 1839.4,369.7 1843.8,368.4 1848.1,367.1 1852.2,365.8 1856.1,364.5 1859.9,363.2 1863.5,361.9 1867,360.7 1870.3,359.4 1873.5,358.1 1876.5,356.8 1879.4,355.5 1882.2,354.2 1884.8,352.9 1887.3,351.6 1889.7,350.3 1891.9,349 1894.1,347.8 1896.1,346.5 1898.1,345.2 1899.9,343.9 1901.7,342.6 1903.3,341.3 1904.9,340 1906.4,338.7 1907.8,337.4 1909.1,336.1 1910.4,334.9 1911.6,333.6 1912.7,332.3 1913.7,331 1914.7,329.7 1915.7,328.4 1916.6,327.1 1917.4,325.8 1918.2,324.5 1919,323.2 1919.7,322 1920.3,320.7 1921,319.4 1921.5,318.1 1922.1,316.8 1922.6,315.5 1923.1,314.2 1923.6,312.9 1924,311.6 1924.4,310.4 1924.8,309.1 1925.2,307.8 1925.5,306.5 1925.8,305.2 1926.1,303.9 1926.4,302.6 1926.7,301.3 1926.9,300 1927.2,298.7 1927.4,297.5 1927.6,296.2 1927.8,294.9 1928,293.6 1928.2,292.3 1928.3,291 1928.5,289.7 1928.6,288.4 1928.7,287.1 1928.9,285.8 1929,284.6 1929.1,283.3 1929.2,282 1929.3,280.7 1929.4,279.4 1929.5,278.1 1929.6,276.8 1929.6,275.5 1929.7,274.2 1929.8,272 1929.9,269.8 1930,267.6 1930.1,265.5 1930.2,263.3 1930.2,261.1 1930.3,258.9 1930.4,256.7 1930.4,254.5 1930.4,252.3 1930.5,250.1 1930.5,247.9 1930.5,245.7 1930.6,243.5 1930.6,241.3 1930.6,239.1 1930.6,236.9 1930.7,234.7 1930.7,232.5 1930.7,230.3 1930.7,228.1 1930.7,225.9 1930.7,223.7 1930.7,221.5 1930.7,219.3 1930.8,217.1 1930.8,214.9 1930.8,212.7 1930.8,210.5 1930.8,208.3 1930.8,206.1 1930.8,203.9 1930.8,201.7 1930.8,199.5 1930.8,197.3 1930.8,195.1 1930.8,192.9 1930.8,190.7 1930.8,188.6 1930.8,186.4 1930.8,184.2 1930.8,182 1930.8,179.8 1930.8,177.6 1930.8,175.4 1930.8,173.2 1930.8,171 1930.8,168.8 1930.8,166.6 1930.8,164.4 1930.8,162.2 1930.8,160 1930.8,157.8 1930.8,155.6 1930.8,153.4 1930.8,151.2 1930.8,149 1930.8,146.8 1930.8,144.6 1481.4,144.6" fill="#989898"/><polygon points="1481.4,425.1 1491.6,423.9 1501.7,422.6 1511.8,421.3 1521.8,420 1531.7,418.7 1541.5,417.4 1551.3,416.1 1561,414.8 1570.6,413.5 1580.1,412.2 1589.5,411 1598.9,409.7 1608.1,408.4 1617.2,407.1 1626.2,405.8 1635.1,404.5 1643.9,403.2 1652.5,401.9 1661.1,400.6 1669.5,399.4 1677.7,398.1 1685.8,396.8 1693.8,395.5 1701.7,394.2 1709.3,392.9 1716.9,391.6 1724.2,390.3 1731.4,389 1738.5,387.7 1745.4,386.5 1752.1,385.2 1758.6,383.9 1765,382.6 1771.2,381.3 1777.2,380 1783,378.7 1788.7,377.4 1794.1,376.1 1799.4,374.8 1804.6,373.6 1809.5,372.3 1814.3,371 1818.9,369.7 1823.3,368.4 1827.6,367.1 1831.7,365.8 1835.6,364.5 1839.4,363.2 1843,361.9 1846.5,360.7 1849.8,359.4 1853,358.1 1856,356.8 1858.9,355.5 1861.7,354.2 1864.3,352.9 1866.8,351.6 1869.2,350.3 1871.5,349.1 1873.6,347.8 1875.7,346.5 1877.6,345.2 1879.4,343.9 1881.2,342.6 1882.8,341.3 1884.4,340 1885.9,338.7 1887.3,337.4 1888.6,336.2 1889.9,334.9 1891.1,333.6 1892.2,332.3 1893.3,331 1894.3,329.7 1895.2,328.4 1896.1,327.1 1896.9,325.8 1897.7,324.5 1898.5,323.3 1899.2,322 1899.8,320.7 1900.5,319.4 1901.1,318.1 1901.6,316.8 1902.1,315.5 1902.6,314.2 1903.1,312.9 1903.5,311.6 1903.9,310.4 1904.3,309.1 1904.7,307.8 1905,306.5 1905.3,305.2 1905.7,303.9 1905.9,302.6 1906.2,301.3 1906.5,300 1906.7,298.8 1906.9,297.5 1907.1,296.2 1907.3,294.9 1907.5,293.6 1907.7,292.3 1907.8,291 1908,289.7 1908.1,288.4 1908.3,287.1 1908.4,285.9 1908.5,284.6 1908.6,283.3 1908.7,282 1908.8,280.7 1908.9,279.4 1909,278.1 1909.1,276.8 1909.2,275.5 1909.2,274.2 1909.3,273 1909.4,271.7 1909.5,269.5 1909.5,267.4 1909.6,265.2 1909.7,263.1 1909.8,260.9 1909.8,258.7 1909.9,256.6 1909.9,254.4 1910,252.3 1910,250.1 1910,248 1910.1,245.8 1910.1,243.7 1910.1,241.5 1910.1,239.4 1910.2,237.2 1910.2,235.1 1910.2,232.9 1910.2,230.7 1910.2,228.6 1910.2,226.4 1910.2,224.3 1910.2,222.1 1910.3,220 1910.3,217.8 1910.3,215.7 1910.3,213.5 1910.3,211.4 1910.3,209.2 1910.3,207.1 1910.3,204.9 1910.3,202.8 1910.3,200.6 1910.3,198.4 1910.3,196.3 1910.3,194.1 1910.3,192 1910.3,189.8 1910.3,187.7 1910.3,185.5 1910.3,183.4 1910.3,181.2 1910.3,179.1 1910.3,176.9 1910.3,174.8 1910.3,172.6 1910.3,170.5 1910.3,168.3 1910.3,166.1 1910.3,164 1910.3,161.8 1910.3,159.7 1910.3,157.5 1910.3,155.4 1910.3,153.2 1910.3,151.1 1910.3,148.9 1910.3,146.8 1910.3,144.6 1481.4,144.6" fill="#a6a6a6"/><polygon points="1481.4,423.5 1491.5,422.2 1501.5,420.9 1511.5,419.6 1521.4,418.3 1531.2,417 1541,415.7 1550.7,414.5 1560.2,413.2 1569.7,411.9 1579.1,410.6 1588.4,409.3 1597.6,408 1606.7,406.7 1615.7,405.4 1624.5,404.1 1633.3,402.8 1641.9,401.6 1650.4,400.3 1658.8,399 1667,397.7 1675.1,396.4 1683,395.1 1690.8,393.8 1698.4,392.5 1705.9,391.2 1713.2,389.9 1720.4,388.7 1727.4,387.4 1734.2,386.1 1740.9,384.8 1747.3,383.5 1753.7,382.2 1759.8,380.9 1765.8,379.6 1771.5,378.3 1777.1,377.1 1782.6,375.8 1787.8,374.5 1792.9,373.2 1797.8,371.9 1802.5,370.6 1807.1,369.3 1811.5,368 1815.7,366.7 1819.7,365.4 1823.6,364.2 1827.4,362.9 1830.9,361.6 1834.4,360.3 1837.6,359 1840.8,357.7 1843.8,356.4 1846.6,355.1 1849.3,353.8 1851.9,352.5 1854.4,351.3 1856.7,350 1859,348.7 1861.1,347.4 1863.1,346.1 1865,344.8 1866.8,343.5 1868.6,342.2 1870.2,340.9 1871.7,339.6 1873.2,338.4 1874.6,337.1 1875.9,335.8 1877.1,334.5 1878.3,333.2 1879.4,331.9 1880.4,330.6 1881.4,329.3 1882.4,328 1883.2,326.8 1884.1,325.5 1884.8,324.2 1885.6,322.9 1886.3,321.6 1886.9,320.3 1887.5,319 1888.1,317.7 1888.7,316.4 1889.2,315.1 1889.7,313.9 1890.1,312.6 1890.5,311.3 1890.9,310 1891.3,308.7 1891.7,307.4 1892,306.1 1892.3,304.8 1892.6,303.5 1892.9,302.2 1893.2,301 1893.4,299.7 1893.6,298.4 1893.9,297.1 1894.1,295.8 1894.3,294.5 1894.4,293.2 1894.6,291.9 1894.8,290.6 1894.9,289.3 1895.1,288.1 1895.2,286.8 1895.3,285.5 1895.4,284.2 1895.5,282.9 1895.6,281.6 1895.7,280.3 1895.8,279 1895.9,277.7 1896,276.5 1896.1,275.2 1896.1,273.9 1896.2,272.6 1896.3,271.3 1896.3,270 1896.4,267.9 1896.5,265.8 1896.6,263.6 1896.6,261.5 1896.7,259.4 1896.7,257.3 1896.8,255.1 1896.8,253 1896.9,250.9 1896.9,248.8 1896.9,246.6 1897,244.5 1897,242.4 1897,240.2 1897,238.1 1897.1,236 1897.1,233.9 1897.1,231.7 1897.1,229.6 1897.1,227.5 1897.1,225.4 1897.1,223.2 1897.1,221.1 1897.1,219 1897.2,216.9 1897.2,214.7 1897.2,212.6 1897.2,210.5 1897.2,208.4 1897.2,206.2 1897.2,204.1 1897.2,202 1897.2,199.9 1897.2,197.7 1897.2,195.6 1897.2,193.5 1897.2,191.4 1897.2,189.2 1897.2,187.1 1897.2,185 1897.2,182.9 1897.2,180.7 1897.2,178.6 1897.2,176.5 1897.2,174.4 1897.2,172.2 1897.2,170.1 1897.2,168 1897.2,165.9 1897.2,163.7 1897.2,161.6 1897.2,159.5 1897.2,157.4 1897.2,155.2 1897.2,153.1 1897.2,151 1897.2,148.9 1897.2,146.7 1897.2,144.6 1481.4,144.6" fill="#b2b2b2"/><polygon points="1481.4,422.1 1491.4,420.8 1501.4,419.5 1511.3,418.2 1521.1,416.9 1530.9,415.6 1540.5,414.3 1550.1,413.1 1559.6,411.8 1569,410.5 1578.2,409.2 1587.4,407.9 1596.5,406.6 1605.5,405.3 1614.3,404 1623.1,402.7 1631.7,401.5 1640.2,400.2 1648.5,398.9 1656.7,397.6 1664.8,396.3 1672.7,395 1680.5,393.7 1688.1,392.4 1695.6,391.1 1702.9,389.8 1710,388.6 1717,387.3 1723.8,386 1730.5,384.7 1736.9,383.4 1743.2,382.1 1749.4,380.8 1755.3,379.5 1761.1,378.2 1766.7,376.9 1772.1,375.7 1777.3,374.4 1782.4,373.1 1787.3,371.8 1792,370.5 1796.5,369.2 1800.9,367.9 1805.1,366.6 1809.1,365.3 1813,364 1816.7,362.8 1820.3,361.5 1823.7,360.2 1827,358.9 1830.1,357.6 1833.1,356.3 1835.9,355 1838.6,353.7 1841.2,352.4 1843.6,351.1 1846,349.9 1848.2,348.6 1850.3,347.3 1852.3,346 1854.2,344.7 1856,343.4 1857.8,342.1 1859.4,340.8 1860.9,339.5 1862.4,338.3 1863.7,337 1865,335.7 1866.3,334.4 1867.4,333.1 1868.5,331.8 1869.6,330.5 1870.6,329.2 1871.5,327.9 1872.4,326.6 1873.2,325.4 1874,324.1 1874.7,322.8 1875.4,321.5 1876,320.2 1876.6,318.9 1877.2,317.6 1877.8,316.3 1878.3,315 1878.7,313.7 1879.2,312.5 1879.6,311.2 1880,309.9 1880.4,308.6 1880.8,307.3 1881.1,306 1881.4,304.7 1881.7,303.4 1882,302.1 1882.2,300.8 1882.5,299.6 1882.7,298.3 1882.9,297 1883.1,295.7 1883.3,294.4 1883.5,293.1 1883.7,291.8 1883.8,290.5 1884,289.2 1884.1,288 1884.3,286.7 1884.4,285.4 1884.5,284.1 1884.6,282.8 1884.7,281.5 1884.8,280.2 1884.9,278.9 1885,277.6 1885.1,276.3 1885.1,275.1 1885.2,273.8 1885.3,272.5 1885.3,271.2 1885.4,269.9 1885.4,268.6 1885.5,266.5 1885.6,264.4 1885.7,262.3 1885.7,260.2 1885.8,258.1 1885.8,256 1885.9,253.9 1885.9,251.8 1885.9,249.7 1886,247.6 1886,245.5 1886,243.4 1886.1,241.3 1886.1,239.2 1886.1,237.1 1886.1,235 1886.1,232.9 1886.1,230.8 1886.2,228.7 1886.2,226.6 1886.2,224.5 1886.2,222.4 1886.2,220.3 1886.2,218.2 1886.2,216.1 1886.2,214 1886.2,211.9 1886.2,209.8 1886.2,207.7 1886.2,205.6 1886.2,203.5 1886.2,201.4 1886.2,199.3 1886.3,197.2 1886.3,195 1886.3,192.9 1886.3,190.8 1886.3,188.7 1886.3,186.6 1886.3,184.5 1886.3,182.4 1886.3,180.3 1886.3,178.2 1886.3,176.1 1886.3,174 1886.3,171.9 1886.3,169.8 1886.3,167.7 1886.3,165.6 1886.3,163.5 1886.3,161.4 1886.3,159.3 1886.3,157.2 1886.3,155.1 1886.3,153 1886.3,150.9 1886.3,148.8 1886.3,146.7 1886.3,144.6 1481.4,144.6" fill="#bcbcbc"/><polygon points="1481.4,420.7 1491.4,419.4 1501.3,418.1 1511.1,416.9 1520.8,415.6 1530.5,414.3 1540,413 1549.5,411.7 1558.9,410.4 1568.2,409.1 1577.4,407.8 1586.4,406.5 1595.4,405.3 1604.2,404 1613,402.7 1621.6,401.4 1630,400.1 1638.4,398.8 1646.6,397.5 1654.6,396.2 1662.6,394.9 1670.3,393.6 1677.9,392.4 1685.4,391.1 1692.7,389.8 1699.8,388.5 1706.8,387.2 1713.6,385.9 1720.3,384.6 1726.7,383.3 1733,382 1739.1,380.7 1745.1,379.5 1750.8,378.2 1756.4,376.9 1761.8,375.6 1767,374.3 1772.1,373 1777,371.7 1781.7,370.4 1786.2,369.1 1790.6,367.8 1794.8,366.6 1798.8,365.3 1802.7,364 1806.4,362.7 1809.9,361.4 1813.3,360.1 1816.6,358.8 1819.7,357.5 1822.7,356.2 1825.5,355 1828.2,353.7 1830.8,352.4 1833.2,351.1 1835.6,349.8 1837.8,348.5 1839.9,347.2 1841.9,345.9 1843.8,344.6 1845.6,343.3 1847.3,342.1 1848.9,340.8 1850.4,339.5 1851.9,338.2 1853.3,336.9 1854.6,335.6 1855.8,334.3 1856.9,333 1858,331.7 1859.1,330.4 1860.1,329.2 1861,327.9 1861.8,326.6 1862.7,325.3 1863.4,324 1864.2,322.7 1864.9,321.4 1865.5,320.1 1866.1,318.8 1866.7,317.5 1867.2,316.3 1867.7,315 1868.2,313.7 1868.7,312.4 1869.1,311.1 1869.5,309.8 1869.9,308.5 1870.2,307.2 1870.6,305.9 1870.9,304.7 1871.2,303.4 1871.4,302.1 1871.7,300.8 1871.9,299.5 1872.2,298.2 1872.4,296.9 1872.6,295.6 1872.8,294.3 1873,293 1873.1,291.8 1873.3,290.5 1873.4,289.2 1873.6,287.9 1873.7,286.6 1873.8,285.3 1873.9,284 1874.1,282.7 1874.2,281.4 1874.3,280.1 1874.3,278.9 1874.4,277.6 1874.5,276.3 1874.6,275 1874.6,273.7 1874.7,272.4 1874.8,271.1 1874.8,269.8 1874.9,268.5 1874.9,267.2 1875,265.2 1875.1,263.1 1875.1,261 1875.2,258.9 1875.3,256.9 1875.3,254.8 1875.3,252.7 1875.4,250.6 1875.4,248.5 1875.4,246.5 1875.5,244.4 1875.5,242.3 1875.5,240.2 1875.5,238.1 1875.6,236.1 1875.6,234 1875.6,231.9 1875.6,229.8 1875.6,227.8 1875.6,225.7 1875.6,223.6 1875.6,221.5 1875.6,219.4 1875.7,217.4 1875.7,215.3 1875.7,213.2 1875.7,211.1 1875.7,209 1875.7,207 1875.7,204.9 1875.7,202.8 1875.7,200.7 1875.7,198.7 1875.7,196.6 1875.7,194.5 1875.7,192.4 1875.7,190.3 1875.7,188.3 1875.7,186.2 1875.7,184.1 1875.7,182 1875.7,179.9 1875.7,177.9 1875.7,175.8 1875.7,173.7 1875.7,171.6 1875.7,169.6 1875.7,167.5 1875.7,165.4 1875.7,163.3 1875.7,161.2 1875.7,159.2 1875.7,157.1 1875.7,155 1875.7,152.9 1875.7,150.8 1875.7,148.8 1875.7,146.7 1875.7,144.6 1481.4,144.6" fill="#c6c6c6"/><polygon points="1481.4,419.2 1491.3,417.9 1501.1,416.7 1510.8,415.4 1520.4,414.1 1530,412.8 1539.5,411.5 1548.8,410.2 1558.1,408.9 1567.3,407.6 1576.3,406.3 1585.3,405 1594.1,403.8 1602.8,402.5 1611.4,401.2 1619.8,399.9 1628.1,398.6 1636.3,397.3 1644.4,396 1652.3,394.7 1660,393.4 1667.6,392.1 1675,390.9 1682.3,389.6 1689.4,388.3 1696.4,387 1703.1,385.7 1709.7,384.4 1716.2,383.1 1722.4,381.8 1728.5,380.5 1734.4,379.2 1740.2,378 1745.7,376.7 1751.1,375.4 1756.3,374.1 1761.3,372.8 1766.2,371.5 1770.8,370.2 1775.3,368.9 1779.7,367.6 1783.8,366.4 1787.9,365.1 1791.7,363.8 1795.4,362.5 1798.9,361.2 1802.3,359.9 1805.5,358.6 1808.6,357.3 1811.6,356 1814.4,354.7 1817.1,353.5 1819.6,352.2 1822,350.9 1824.4,349.6 1826.6,348.3 1828.6,347 1830.6,345.7 1832.5,344.4 1834.3,343.1 1836,341.8 1837.6,340.6 1839.1,339.3 1840.5,338 1841.9,336.7 1843.2,335.4 1844.4,334.1 1845.6,332.8 1846.6,331.5 1847.7,330.2 1848.6,328.9 1849.6,327.7 1850.4,326.4 1851.2,325.1 1852,323.8 1852.7,322.5 1853.4,321.2 1854,319.9 1854.6,318.6 1855.2,317.3 1855.7,316.1 1856.3,314.8 1856.7,313.5 1857.2,312.2 1857.6,310.9 1858,309.6 1858.4,308.3 1858.7,307 1859,305.7 1859.4,304.4 1859.6,303.2 1859.9,301.9 1860.2,300.6 1860.4,299.3 1860.6,298 1860.9,296.7 1861.1,295.4 1861.2,294.1 1861.4,292.8 1861.6,291.5 1861.7,290.3 1861.9,289 1862,287.7 1862.2,286.4 1862.3,285.1 1862.4,283.8 1862.5,282.5 1862.6,281.2 1862.7,279.9 1862.8,278.6 1862.9,277.4 1863,276.1 1863,274.8 1863.1,273.5 1863.2,272.2 1863.2,270.9 1863.3,269.6 1863.3,268.3 1863.4,267 1863.4,265.8 1863.5,263.7 1863.6,261.6 1863.6,259.6 1863.7,257.5 1863.7,255.5 1863.8,253.4 1863.8,251.4 1863.8,249.3 1863.9,247.3 1863.9,245.2 1863.9,243.2 1863.9,241.1 1864,239.1 1864,237 1864,235 1864,232.9 1864,230.8 1864,228.8 1864,226.7 1864.1,224.7 1864.1,222.6 1864.1,220.6 1864.1,218.5 1864.1,216.5 1864.1,214.4 1864.1,212.4 1864.1,210.3 1864.1,208.3 1864.1,206.2 1864.1,204.2 1864.1,202.1 1864.1,200 1864.1,198 1864.1,195.9 1864.1,193.9 1864.1,191.8 1864.1,189.8 1864.1,187.7 1864.1,185.7 1864.1,183.6 1864.1,181.6 1864.1,179.5 1864.1,177.5 1864.1,175.4 1864.1,173.4 1864.2,171.3 1864.2,169.2 1864.2,167.2 1864.2,165.1 1864.2,163.1 1864.2,161 1864.2,159 1864.2,156.9 1864.2,154.9 1864.2,152.8 1864.2,150.8 1864.2,148.7 1864.2,146.7 1864.2,144.6 1481.4,144.6" fill="#cecece"/><polygon points="1481.4,417.3 1491.2,416 1500.8,414.7 1510.4,413.4 1519.9,412.1 1529.4,410.8 1538.7,409.5 1547.9,408.2 1557,406.9 1566,405.7 1574.9,404.4 1583.6,403.1 1592.3,401.8 1600.8,400.5 1609.2,399.2 1617.4,397.9 1625.5,396.6 1633.5,395.3 1641.3,394 1649,392.8 1656.5,391.5 1663.8,390.2 1671,388.9 1678,387.6 1684.9,386.3 1691.6,385 1698.1,383.7 1704.4,382.4 1710.6,381.1 1716.6,379.9 1722.4,378.6 1728,377.3 1733.5,376 1738.8,374.7 1743.9,373.4 1748.8,372.1 1753.6,370.8 1758.2,369.5 1762.6,368.2 1766.8,367 1770.9,365.7 1774.8,364.4 1778.6,363.1 1782.2,361.8 1785.6,360.5 1788.9,359.2 1792.1,357.9 1795.1,356.6 1798,355.4 1800.7,354.1 1803.3,352.8 1805.8,351.5 1808.2,350.2 1810.4,348.9 1812.6,347.6 1814.6,346.3 1816.6,345 1818.4,343.7 1820.1,342.5 1821.8,341.2 1823.3,339.9 1824.8,338.6 1826.2,337.3 1827.5,336 1828.8,334.7 1829.9,333.4 1831.1,332.1 1832.1,330.8 1833.1,329.6 1834.1,328.3 1834.9,327 1835.8,325.7 1836.6,324.4 1837.3,323.1 1838,321.8 1838.7,320.5 1839.3,319.2 1839.9,317.9 1840.4,316.7 1840.9,315.4 1841.4,314.1 1841.9,312.8 1842.3,311.5 1842.7,310.2 1843.1,308.9 1843.5,307.6 1843.8,306.3 1844.1,305.1 1844.4,303.8 1844.7,302.5 1845,301.2 1845.2,299.9 1845.5,298.6 1845.7,297.3 1845.9,296 1846.1,294.7 1846.3,293.4 1846.4,292.2 1846.6,290.9 1846.7,289.6 1846.9,288.3 1847,287 1847.1,285.7 1847.3,284.4 1847.4,283.1 1847.5,281.8 1847.6,280.5 1847.7,279.3 1847.8,278 1847.8,276.7 1847.9,275.4 1848,274.1 1848,272.8 1848.1,271.5 1848.2,270.2 1848.2,268.9 1848.3,267.6 1848.3,266.4 1848.4,265.1 1848.4,263.8 1848.5,261.8 1848.5,259.7 1848.6,257.7 1848.6,255.7 1848.7,253.7 1848.7,251.7 1848.7,249.6 1848.8,247.6 1848.8,245.6 1848.8,243.6 1848.9,241.6 1848.9,239.5 1848.9,237.5 1848.9,235.5 1848.9,233.5 1848.9,231.5 1849,229.4 1849,227.4 1849,225.4 1849,223.4 1849,221.4 1849,219.3 1849,217.3 1849,215.3 1849,213.3 1849,211.3 1849,209.2 1849,207.2 1849,205.2 1849,203.2 1849,201.2 1849,199.1 1849.1,197.1 1849.1,195.1 1849.1,193.1 1849.1,191.1 1849.1,189 1849.1,187 1849.1,185 1849.1,183 1849.1,181 1849.1,178.9 1849.1,176.9 1849.1,174.9 1849.1,172.9 1849.1,170.9 1849.1,168.8 1849.1,166.8 1849.1,164.8 1849.1,162.8 1849.1,160.8 1849.1,158.7 1849.1,156.7 1849.1,154.7 1849.1,152.7 1849.1,150.7 1849.1,148.6 1849.1,146.6 1849.1,144.6 1481.4,144.6" fill="#d6d6d6"/><polygon points="1481.4,413.2 1490.9,411.9 1500.3,410.6 1509.6,409.3 1518.8,408 1527.9,406.7 1536.8,405.4 1545.7,404.2 1554.5,402.9 1563.1,401.6 1571.6,400.3 1579.9,399 1588.2,397.7 1596.2,396.4 1604.2,395.1 1612,393.8 1619.6,392.5 1627.1,391.3 1634.4,390 1641.6,388.7 1648.6,387.4 1655.4,386.1 1662.1,384.8 1668.5,383.5 1674.9,382.2 1681,380.9 1687,379.6 1692.8,378.4 1698.4,377.1 1703.8,375.8 1709,374.5 1714.1,373.2 1719,371.9 1723.8,370.6 1728.3,369.3 1732.7,368 1736.9,366.7 1741,365.5 1744.9,364.2 1748.6,362.9 1752.2,361.6 1755.6,360.3 1758.9,359 1762,357.7 1765,356.4 1767.9,355.1 1770.6,353.9 1773.2,352.6 1775.6,351.3 1778,350 1780.2,348.7 1782.3,347.4 1784.4,346.1 1786.3,344.8 1788.1,343.5 1789.8,342.2 1791.4,341 1793,339.7 1794.5,338.4 1795.8,337.1 1797.1,335.8 1798.4,334.5 1799.6,333.2 1800.7,331.9 1801.7,330.6 1802.7,329.3 1803.6,328.1 1804.5,326.8 1805.3,325.5 1806.1,324.2 1806.8,322.9 1807.5,321.6 1808.2,320.3 1808.8,319 1809.4,317.7 1809.9,316.4 1810.4,315.2 1810.9,313.9 1811.4,312.6 1811.8,311.3 1812.2,310 1812.6,308.7 1812.9,307.4 1813.3,306.1 1813.6,304.8 1813.9,303.6 1814.2,302.3 1814.4,301 1814.7,299.7 1814.9,298.4 1815.1,297.1 1815.3,295.8 1815.5,294.5 1815.7,293.2 1815.9,291.9 1816,290.7 1816.2,289.4 1816.3,288.1 1816.5,286.8 1816.6,285.5 1816.7,284.2 1816.8,282.9 1816.9,281.6 1817,280.3 1817.1,279 1817.2,277.8 1817.3,276.5 1817.3,275.2 1817.4,273.9 1817.5,272.6 1817.5,271.3 1817.6,270 1817.7,268.7 1817.7,267.4 1817.8,266.1 1817.8,264.9 1817.8,263.6 1817.9,262.3 1817.9,261 1818,259.7 1818,257.7 1818.1,255.8 1818.1,253.8 1818.1,251.9 1818.2,249.9 1818.2,248 1818.2,246 1818.2,244.1 1818.3,242.1 1818.3,240.2 1818.3,238.2 1818.3,236.3 1818.3,234.3 1818.4,232.4 1818.4,230.4 1818.4,228.5 1818.4,226.5 1818.4,224.6 1818.4,222.6 1818.4,220.7 1818.4,218.7 1818.4,216.8 1818.4,214.8 1818.4,212.9 1818.4,210.9 1818.5,209 1818.5,207 1818.5,205.1 1818.5,203.1 1818.5,201.2 1818.5,199.2 1818.5,197.3 1818.5,195.3 1818.5,193.4 1818.5,191.4 1818.5,189.5 1818.5,187.5 1818.5,185.6 1818.5,183.6 1818.5,181.7 1818.5,179.7 1818.5,177.8 1818.5,175.8 1818.5,173.9 1818.5,171.9 1818.5,170 1818.5,168 1818.5,166.1 1818.5,164.1 1818.5,162.2 1818.5,160.2 1818.5,158.3 1818.5,156.3 1818.5,154.4 1818.5,152.4 1818.5,150.5 1818.5,148.5 1818.5,146.6 1818.5,144.6 1481.4,144.6" fill="#dfdfdf"/><g fill="none" stroke="#000" stroke-width="2.6"><polyline points="1481.4,427.7 1491.7,426.4 1501.9,425.1 1512.1,423.8 1522.2,422.6 1532.3,421.3 1542.3,420 1552.2,418.7 1562.1,417.4 1571.8,416.1 1581.5,414.8 1591.1,413.5 1600.6,412.2 1610.1,411 1619.4,409.7 1628.6,408.4 1637.7,407.1 1646.7,405.8 1655.6,404.5 1664.4,403.2 1673.1,401.9 1681.6,400.6 1690,399.3 1698.3,398.1 1706.4,396.8 1714.4,395.5 1722.2,394.2 1729.9,392.9 1737.4,391.6 1744.8,390.3 1752,389 1759,387.7 1765.9,386.4 1772.6,385.2 1779.1,383.9 1785.5,382.6 1791.7,381.3 1797.7,380 1803.5,378.7 1809.2,377.4 1814.6,376.1 1820,374.8 1825.1,373.5 1830,372.3 1834.8,371 1839.4,369.7 1843.8,368.4 1848.1,367.1 1852.2,365.8 1856.1,364.5 1859.9,363.2 1863.5,361.9 1867,360.7 1870.3,359.4 1873.5,358.1 1876.5,356.8 1879.4,355.5 1882.2,354.2 1884.8,352.9 1887.3,351.6 1889.7,350.3 1891.9,349 1894.1,347.8 1896.1,346.5 1898.1,345.2 1899.9,343.9 1901.7,342.6 1903.3,341.3 1904.9,340 1906.4,338.7 1907.8,337.4 1909.1,336.1 1910.4,334.9 1911.6,333.6 1912.7,332.3 1913.7,331 1914.7,329.7 1915.7,328.4 1916.6,327.1 1917.4,325.8 1918.2,324.5 1919,323.2 1919.7,322 1920.3,320.7 1921,319.4 1921.5,318.1 1922.1,316.8 1922.6,315.5 1923.1,314.2 1923.6,312.9 1924,311.6 1924.4,310.4 1924.8,309.1 1925.2,307.8 1925.5,306.5 1925.8,305.2 1926.1,303.9 1926.4,302.6 1926.7,301.3 1926.9,300 1927.2,298.7 1927.4,297.5 1927.6,296.2 1927.8,294.9 1928,293.6 1928.2,292.3 1928.3,291 1928.5,289.7 1928.6,288.4 1928.7,287.1 1928.9,285.8 1929,284.6 1929.1,283.3 1929.2,282 1929.3,280.7 1929.4,279.4 1929.5,278.1 1929.6,276.8 1929.6,275.5 1929.7,274.2 1929.8,272 1929.9,269.8 1930,267.6 1930.1,265.5 1930.2,263.3 1930.2,261.1 1930.3,258.9 1930.4,256.7 1930.4,254.5 1930.4,252.3 1930.5,250.1 1930.5,247.9 1930.5,245.7 1930.6,243.5 1930.6,241.3 1930.6,239.1 1930.6,236.9 1930.7,234.7 1930.7,232.5 1930.7,230.3 1930.7,228.1 1930.7,225.9 1930.7,223.7 1930.7,221.5 1930.7,219.3 1930.8,217.1 1930.8,214.9 1930.8,212.7 1930.8,210.5 1930.8,208.3 1930.8,206.1 1930.8,203.9 1930.8,201.7 1930.8,199.5 1930.8,197.3 1930.8,195.1 1930.8,192.9 1930.8,190.7 1930.8,188.6 1930.8,186.4 1930.8,184.2 1930.8,182 1930.8,179.8 1930.8,177.6 1930.8,175.4 1930.8,173.2 1930.8,171 1930.8,168.8 1930.8,166.6 1930.8,164.4 1930.8,162.2 1930.8,160 1930.8,157.8 1930.8,155.6 1930.8,153.4 1930.8,151.2 1930.8,149 1930.8,146.8 1930.8,144.6" /><polyline points="1481.4,425.1 1491.6,423.9 1501.7,422.6 1511.8,421.3 1521.8,420 1531.7,418.7 1541.5,417.4 1551.3,416.1 1561,414.8 1570.6,413.5 1580.1,412.2 1589.5,411 1598.9,409.7 1608.1,408.4 1617.2,407.1 1626.2,405.8 1635.1,404.5 1643.9,403.2 1652.5,401.9 1661.1,400.6 1669.5,399.4 1677.7,398.1 1685.8,396.8 1693.8,395.5 1701.7,394.2 1709.3,392.9 1716.9,391.6 1724.2,390.3 1731.4,389 1738.5,387.7 1745.4,386.5 1752.1,385.2 1758.6,383.9 1765,382.6 1771.2,381.3 1777.2,380 1783,378.7 1788.7,377.4 1794.1,376.1 1799.4,374.8 1804.6,373.6 1809.5,372.3 1814.3,371 1818.9,369.7 1823.3,368.4 1827.6,367.1 1831.7,365.8 1835.6,364.5 1839.4,363.2 1843,361.9 1846.5,360.7 1849.8,359.4 1853,358.1 1856,356.8 1858.9,355.5 1861.7,354.2 1864.3,352.9 1866.8,351.6 1869.2,350.3 1871.5,349.1 1873.6,347.8 1875.7,346.5 1877.6,345.2 1879.4,343.9 1881.2,342.6 1882.8,341.3 1884.4,340 1885.9,338.7 1887.3,337.4 1888.6,336.2 1889.9,334.9 1891.1,333.6 1892.2,332.3 1893.3,331 1894.3,329.7 1895.2,328.4 1896.1,327.1 1896.9,325.8 1897.7,324.5 1898.5,323.3 1899.2,322 1899.8,320.7 1900.5,319.4 1901.1,318.1 1901.6,316.8 1902.1,315.5 1902.6,314.2 1903.1,312.9 1903.5,311.6 1903.9,310.4 1904.3,309.1 1904.7,307.8 1905,306.5 1905.3,305.2 1905.7,303.9 1905.9,302.6 1906.2,301.3 1906.5,300 1906.7,298.8 1906.9,297.5 1907.1,296.2 1907.3,294.9 1907.5,293.6 1907.7,292.3 1907.8,291 1908,289.7 1908.1,288.4 1908.3,287.1 1908.4,285.9 1908.5,284.6 1908.6,283.3 1908.7,282 1908.8,280.7 1908.9,279.4 1909,278.1 1909.1,276.8 1909.2,275.5 1909.2,274.2 1909.3,273 1909.4,271.7 1909.5,269.5 1909.5,267.4 1909.6,265.2 1909.7,263.1 1909.8,260.9 1909.8,258.7 1909.9,256.6 1909.9,254.4 1910,252.3 1910,250.1 1910,248 1910.1,245.8 1910.1,243.7 1910.1,241.5 1910.1,239.4 1910.2,237.2 1910.2,235.1 1910.2,232.9 1910.2,230.7 1910.2,228.6 1910.2,226.4 1910.2,224.3 1910.2,222.1 1910.3,220 1910.3,217.8 1910.3,215.7 1910.3,213.5 1910.3,211.4 1910.3,209.2 1910.3,207.1 1910.3,204.9 1910.3,202.8 1910.3,200.6 1910.3,198.4 1910.3,196.3 1910.3,194.1 1910.3,192 1910.3,189.8 1910.3,187.7 1910.3,185.5 1910.3,183.4 1910.3,181.2 1910.3,179.1 1910.3,176.9 1910.3,174.8 1910.3,172.6 1910.3,170.5 1910.3,168.3 1910.3,166.1 1910.3,164 1910.3,161.8 1910.3,159.7 1910.3,157.5 1910.3,155.4 1910.3,153.2 1910.3,151.1 1910.3,148.9 1910.3,146.8 1910.3,144.6" /><polyline points="1481.4,423.5 1491.5,422.2 1501.5,420.9 1511.5,419.6 1521.4,418.3 1531.2,417 1541,415.7 1550.7,414.5 1560.2,413.2 1569.7,411.9 1579.1,410.6 1588.4,409.3 1597.6,408 1606.7,406.7 1615.7,405.4 1624.5,404.1 1633.3,402.8 1641.9,401.6 1650.4,400.3 1658.8,399 1667,397.7 1675.1,396.4 1683,395.1 1690.8,393.8 1698.4,392.5 1705.9,391.2 1713.2,389.9 1720.4,388.7 1727.4,387.4 1734.2,386.1 1740.9,384.8 1747.3,383.5 1753.7,382.2 1759.8,380.9 1765.8,379.6 1771.5,378.3 1777.1,377.1 1782.6,375.8 1787.8,374.5 1792.9,373.2 1797.8,371.9 1802.5,370.6 1807.1,369.3 1811.5,368 1815.7,366.7 1819.7,365.4 1823.6,364.2 1827.4,362.9 1830.9,361.6 1834.4,360.3 1837.6,359 1840.8,357.7 1843.8,356.4 1846.6,355.1 1849.3,353.8 1851.9,352.5 1854.4,351.3 1856.7,350 1859,348.7 1861.1,347.4 1863.1,346.1 1865,344.8 1866.8,343.5 1868.6,342.2 1870.2,340.9 1871.7,339.6 1873.2,338.4 1874.6,337.1 1875.9,335.8 1877.1,334.5 1878.3,333.2 1879.4,331.9 1880.4,330.6 1881.4,329.3 1882.4,328 1883.2,326.8 1884.1,325.5 1884.8,324.2 1885.6,322.9 1886.3,321.6 1886.9,320.3 1887.5,319 1888.1,317.7 1888.7,316.4 1889.2,315.1 1889.7,313.9 1890.1,312.6 1890.5,311.3 1890.9,310 1891.3,308.7 1891.7,307.4 1892,306.1 1892.3,304.8 1892.6,303.5 1892.9,302.2 1893.2,301 1893.4,299.7 1893.6,298.4 1893.9,297.1 1894.1,295.8 1894.3,294.5 1894.4,293.2 1894.6,291.9 1894.8,290.6 1894.9,289.3 1895.1,288.1 1895.2,286.8 1895.3,285.5 1895.4,284.2 1895.5,282.9 1895.6,281.6 1895.7,280.3 1895.8,279 1895.9,277.7 1896,276.5 1896.1,275.2 1896.1,273.9 1896.2,272.6 1896.3,271.3 1896.3,270 1896.4,267.9 1896.5,265.8 1896.6,263.6 1896.6,261.5 1896.7,259.4 1896.7,257.3 1896.8,255.1 1896.8,253 1896.9,250.9 1896.9,248.8 1896.9,246.6 1897,244.5 1897,242.4 1897,240.2 1897,238.1 1897.1,236 1897.1,233.9 1897.1,231.7 1897.1,229.6 1897.1,227.5 1897.1,225.4 1897.1,223.2 1897.1,221.1 1897.1,219 1897.2,216.9 1897.2,214.7 1897.2,212.6 1897.2,210.5 1897.2,208.4 1897.2,206.2 1897.2,204.1 1897.2,202 1897.2,199.9 1897.2,197.7 1897.2,195.6 1897.2,193.5 1897.2,191.4 1897.2,189.2 1897.2,187.1 1897.2,185 1897.2,182.9 1897.2,180.7 1897.2,178.6 1897.2,176.5 1897.2,174.4 1897.2,172.2 1897.2,170.1 1897.2,168 1897.2,165.9 1897.2,163.7 1897.2,161.6 1897.2,159.5 1897.2,157.4 1897.2,155.2 1897.2,153.1 1897.2,151 1897.2,148.9 1897.2,146.7 1897.2,144.6" /><polyline points="1481.4,422.1 1491.4,420.8 1501.4,419.5 1511.3,418.2 1521.1,416.9 1530.9,415.6 1540.5,414.3 1550.1,413.1 1559.6,411.8 1569,410.5 1578.2,409.2 1587.4,407.9 1596.5,406.6 1605.5,405.3 1614.3,404 1623.1,402.7 1631.7,401.5 1640.2,400.2 1648.5,398.9 1656.7,397.6 1664.8,396.3 1672.7,395 1680.5,393.7 1688.1,392.4 1695.6,391.1 1702.9,389.8 1710,388.6 1717,387.3 1723.8,386 1730.5,384.7 1736.9,383.4 1743.2,382.1 1749.4,380.8 1755.3,379.5 1761.1,378.2 1766.7,376.9 1772.1,375.7 1777.3,374.4 1782.4,373.1 1787.3,371.8 1792,370.5 1796.5,369.2 1800.9,367.9 1805.1,366.6 1809.1,365.3 1813,364 1816.7,362.8 1820.3,361.5 1823.7,360.2 1827,358.9 1830.1,357.6 1833.1,356.3 1835.9,355 1838.6,353.7 1841.2,352.4 1843.6,351.1 1846,349.9 1848.2,348.6 1850.3,347.3 1852.3,346 1854.2,344.7 1856,343.4 1857.8,342.1 1859.4,340.8 1860.9,339.5 1862.4,338.3 1863.7,337 1865,335.7 1866.3,334.4 1867.4,333.1 1868.5,331.8 1869.6,330.5 1870.6,329.2 1871.5,327.9 1872.4,326.6 1873.2,325.4 1874,324.1 1874.7,322.8 1875.4,321.5 1876,320.2 1876.6,318.9 1877.2,317.6 1877.8,316.3 1878.3,315 1878.7,313.7 1879.2,312.5 1879.6,311.2 1880,309.9 1880.4,308.6 1880.8,307.3 1881.1,306 1881.4,304.7 1881.7,303.4 1882,302.1 1882.2,300.8 1882.5,299.6 1882.7,298.3 1882.9,297 1883.1,295.7 1883.3,294.4 1883.5,293.1 1883.7,291.8 1883.8,290.5 1884,289.2 1884.1,288 1884.3,286.7 1884.4,285.4 1884.5,284.1 1884.6,282.8 1884.7,281.5 1884.8,280.2 1884.9,278.9 1885,277.6 1885.1,276.3 1885.1,275.1 1885.2,273.8 1885.3,272.5 1885.3,271.2 1885.4,269.9 1885.4,268.6 1885.5,266.5 1885.6,264.4 1885.7,262.3 1885.7,260.2 1885.8,258.1 1885.8,256 1885.9,253.9 1885.9,251.8 1885.9,249.7 1886,247.6 1886,245.5 1886,243.4 1886.1,241.3 1886.1,239.2 1886.1,237.1 1886.1,235 1886.1,232.9 1886.1,230.8 1886.2,228.7 1886.2,226.6 1886.2,224.5 1886.2,222.4 1886.2,220.3 1886.2,218.2 1886.2,216.1 1886.2,214 1886.2,211.9 1886.2,209.8 1886.2,207.7 1886.2,205.6 1886.2,203.5 1886.2,201.4 1886.2,199.3 1886.3,197.2 1886.3,195 1886.3,192.9 1886.3,190.8 1886.3,188.7 1886.3,186.6 1886.3,184.5 1886.3,182.4 1886.3,180.3 1886.3,178.2 1886.3,176.1 1886.3,174 1886.3,171.9 1886.3,169.8 1886.3,167.7 1886.3,165.6 1886.3,163.5 1886.3,161.4 1886.3,159.3 1886.3,157.2 1886.3,155.1 1886.3,153 1886.3,150.9 1886.3,148.8 1886.3,146.7 1886.3,144.6" /><polyline points="1481.4,420.7 1491.4,419.4 1501.3,418.1 1511.1,416.9 1520.8,415.6 1530.5,414.3 1540,413 1549.5,411.7 1558.9,410.4 1568.2,409.1 1577.4,407.8 1586.4,406.5 1595.4,405.3 1604.2,404 1613,402.7 1621.6,401.4 1630,400.1 1638.4,398.8 1646.6,397.5 1654.6,396.2 1662.6,394.9 1670.3,393.6 1677.9,392.4 1685.4,391.1 1692.7,389.8 1699.8,388.5 1706.8,387.2 1713.6,385.9 1720.3,384.6 1726.7,383.3 1733,382 1739.1,380.7 1745.1,379.5 1750.8,378.2 1756.4,376.9 1761.8,375.6 1767,374.3 1772.1,373 1777,371.7 1781.7,370.4 1786.2,369.1 1790.6,367.8 1794.8,366.6 1798.8,365.3 1802.7,364 1806.4,362.7 1809.9,361.4 1813.3,360.1 1816.6,358.8 1819.7,357.5 1822.7,356.2 1825.5,355 1828.2,353.7 1830.8,352.4 1833.2,351.1 1835.6,349.8 1837.8,348.5 1839.9,347.2 1841.9,345.9 1843.8,344.6 1845.6,343.3 1847.3,342.1 1848.9,340.8 1850.4,339.5 1851.9,338.2 1853.3,336.9 1854.6,335.6 1855.8,334.3 1856.9,333 1858,331.7 1859.1,330.4 1860.1,329.2 1861,327.9 1861.8,326.6 1862.7,325.3 1863.4,324 1864.2,322.7 1864.9,321.4 1865.5,320.1 1866.1,318.8 1866.7,317.5 1867.2,316.3 1867.7,315 1868.2,313.7 1868.7,312.4 1869.1,311.1 1869.5,309.8 1869.9,308.5 1870.2,307.2 1870.6,305.9 1870.9,304.7 1871.2,303.4 1871.4,302.1 1871.7,300.8 1871.9,299.5 1872.2,298.2 1872.4,296.9 1872.6,295.6 1872.8,294.3 1873,293 1873.1,291.8 1873.3,290.5 1873.4,289.2 1873.6,287.9 1873.7,286.6 1873.8,285.3 1873.9,284 1874.1,282.7 1874.2,281.4 1874.3,280.1 1874.3,278.9 1874.4,277.6 1874.5,276.3 1874.6,275 1874.6,273.7 1874.7,272.4 1874.8,271.1 1874.8,269.8 1874.9,268.5 1874.9,267.2 1875,265.2 1875.1,263.1 1875.1,261 1875.2,258.9 1875.3,256.9 1875.3,254.8 1875.3,252.7 1875.4,250.6 1875.4,248.5 1875.4,246.5 1875.5,244.4 1875.5,242.3 1875.5,240.2 1875.5,238.1 1875.6,236.1 1875.6,234 1875.6,231.9 1875.6,229.8 1875.6,227.8 1875.6,225.7 1875.6,223.6 1875.6,221.5 1875.6,219.4 1875.7,217.4 1875.7,215.3 1875.7,213.2 1875.7,211.1 1875.7,209 1875.7,207 1875.7,204.9 1875.7,202.8 1875.7,200.7 1875.7,198.7 1875.7,196.6 1875.7,194.5 1875.7,192.4 1875.7,190.3 1875.7,188.3 1875.7,186.2 1875.7,184.1 1875.7,182 1875.7,179.9 1875.7,177.9 1875.7,175.8 1875.7,173.7 1875.7,171.6 1875.7,169.6 1875.7,167.5 1875.7,165.4 1875.7,163.3 1875.7,161.2 1875.7,159.2 1875.7,157.1 1875.7,155 1875.7,152.9 1875.7,150.8 1875.7,148.8 1875.7,146.7 1875.7,144.6" /><polyline points="1481.4,419.2 1491.3,417.9 1501.1,416.7 1510.8,415.4 1520.4,414.1 1530,412.8 1539.5,411.5 1548.8,410.2 1558.1,408.9 1567.3,407.6 1576.3,406.3 1585.3,405 1594.1,403.8 1602.8,402.5 1611.4,401.2 1619.8,399.9 1628.1,398.6 1636.3,397.3 1644.4,396 1652.3,394.7 1660,393.4 1667.6,392.1 1675,390.9 1682.3,389.6 1689.4,388.3 1696.4,387 1703.1,385.7 1709.7,384.4 1716.2,383.1 1722.4,381.8 1728.5,380.5 1734.4,379.2 1740.2,378 1745.7,376.7 1751.1,375.4 1756.3,374.1 1761.3,372.8 1766.2,371.5 1770.8,370.2 1775.3,368.9 1779.7,367.6 1783.8,366.4 1787.9,365.1 1791.7,363.8 1795.4,362.5 1798.9,361.2 1802.3,359.9 1805.5,358.6 1808.6,357.3 1811.6,356 1814.4,354.7 1817.1,353.5 1819.6,352.2 1822,350.9 1824.4,349.6 1826.6,348.3 1828.6,347 1830.6,345.7 1832.5,344.4 1834.3,343.1 1836,341.8 1837.6,340.6 1839.1,339.3 1840.5,338 1841.9,336.7 1843.2,335.4 1844.4,334.1 1845.6,332.8 1846.6,331.5 1847.7,330.2 1848.6,328.9 1849.6,327.7 1850.4,326.4 1851.2,325.1 1852,323.8 1852.7,322.5 1853.4,321.2 1854,319.9 1854.6,318.6 1855.2,317.3 1855.7,316.1 1856.3,314.8 1856.7,313.5 1857.2,312.2 1857.6,310.9 1858,309.6 1858.4,308.3 1858.7,307 1859,305.7 1859.4,304.4 1859.6,303.2 1859.9,301.9 1860.2,300.6 1860.4,299.3 1860.6,298 1860.9,296.7 1861.1,295.4 1861.2,294.1 1861.4,292.8 1861.6,291.5 1861.7,290.3 1861.9,289 1862,287.7 1862.2,286.4 1862.3,285.1 1862.4,283.8 1862.5,282.5 1862.6,281.2 1862.7,279.9 1862.8,278.6 1862.9,277.4 1863,276.1 1863,274.8 1863.1,273.5 1863.2,272.2 1863.2,270.9 1863.3,269.6 1863.3,268.3 1863.4,267 1863.4,265.8 1863.5,263.7 1863.6,261.6 1863.6,259.6 1863.7,257.5 1863.7,255.5 1863.8,253.4 1863.8,251.4 1863.8,249.3 1863.9,247.3 1863.9,245.2 1863.9,243.2 1863.9,241.1 1864,239.1 1864,237 1864,235 1864,232.9 1864,230.8 1864,228.8 1864,226.7 1864.1,224.7 1864.1,222.6 1864.1,220.6 1864.1,218.5 1864.1,216.5 1864.1,214.4 1864.1,212.4 1864.1,210.3 1864.1,208.3 1864.1,206.2 1864.1,204.2 1864.1,202.1 1864.1,200 1864.1,198 1864.1,195.9 1864.1,193.9 1864.1,191.8 1864.1,189.8 1864.1,187.7 1864.1,185.7 1864.1,183.6 1864.1,181.6 1864.1,179.5 1864.1,177.5 1864.1,175.4 1864.1,173.4 1864.2,171.3 1864.2,169.2 1864.2,167.2 1864.2,165.1 1864.2,163.1 1864.2,161 1864.2,159 1864.2,156.9 1864.2,154.9 1864.2,152.8 1864.2,150.8 1864.2,148.7 1864.2,146.7 1864.2,144.6" /><polyline points="1481.4,417.3 1491.2,416 1500.8,414.7 1510.4,413.4 1519.9,412.1 1529.4,410.8 1538.7,409.5 1547.9,408.2 1557,406.9 1566,405.7 1574.9,404.4 1583.6,403.1 1592.3,401.8 1600.8,400.5 1609.2,399.2 1617.4,397.9 1625.5,396.6 1633.5,395.3 1641.3,394 1649,392.8 1656.5,391.5 1663.8,390.2 1671,388.9 1678,387.6 1684.9,386.3 1691.6,385 1698.1,383.7 1704.4,382.4 1710.6,381.1 1716.6,379.9 1722.4,378.6 1728,377.3 1733.5,376 1738.8,374.7 1743.9,373.4 1748.8,372.1 1753.6,370.8 1758.2,369.5 1762.6,368.2 1766.8,367 1770.9,365.7 1774.8,364.4 1778.6,363.1 1782.2,361.8 1785.6,360.5 1788.9,359.2 1792.1,357.9 1795.1,356.6 1798,355.4 1800.7,354.1 1803.3,352.8 1805.8,351.5 1808.2,350.2 1810.4,348.9 1812.6,347.6 1814.6,346.3 1816.6,345 1818.4,343.7 1820.1,342.5 1821.8,341.2 1823.3,339.9 1824.8,338.6 1826.2,337.3 1827.5,336 1828.8,334.7 1829.9,333.4 1831.1,332.1 1832.1,330.8 1833.1,329.6 1834.1,328.3 1834.9,327 1835.8,325.7 1836.6,324.4 1837.3,323.1 1838,321.8 1838.7,320.5 1839.3,319.2 1839.9,317.9 1840.4,316.7 1840.9,315.4 1841.4,314.1 1841.9,312.8 1842.3,311.5 1842.7,310.2 1843.1,308.9 1843.5,307.6 1843.8,306.3 1844.1,305.1 1844.4,303.8 1844.7,302.5 1845,301.2 1845.2,299.9 1845.5,298.6 1845.7,297.3 1845.9,296 1846.1,294.7 1846.3,293.4 1846.4,292.2 1846.6,290.9 1846.7,289.6 1846.9,288.3 1847,287 1847.1,285.7 1847.3,284.4 1847.4,283.1 1847.5,281.8 1847.6,280.5 1847.7,279.3 1847.8,278 1847.8,276.7 1847.9,275.4 1848,274.1 1848,272.8 1848.1,271.5 1848.2,270.2 1848.2,268.9 1848.3,267.6 1848.3,266.4 1848.4,265.1 1848.4,263.8 1848.5,261.8 1848.5,259.7 1848.6,257.7 1848.6,255.7 1848.7,253.7 1848.7,251.7 1848.7,249.6 1848.8,247.6 1848.8,245.6 1848.8,243.6 1848.9,241.6 1848.9,239.5 1848.9,237.5 1848.9,235.5 1848.9,233.5 1848.9,231.5 1849,229.4 1849,227.4 1849,225.4 1849,223.4 1849,221.4 1849,219.3 1849,217.3 1849,215.3 1849,213.3 1849,211.3 1849,209.2 1849,207.2 1849,205.2 1849,203.2 1849,201.2 1849,199.1 1849.1,197.1 1849.1,195.1 1849.1,193.1 1849.1,191.1 1849.1,189 1849.1,187 1849.1,185 1849.1,183 1849.1,181 1849.1,178.9 1849.1,176.9 1849.1,174.9 1849.1,172.9 1849.1,170.9 1849.1,168.8 1849.1,166.8 1849.1,164.8 1849.1,162.8 1849.1,160.8 1849.1,158.7 1849.1,156.7 1849.1,154.7 1849.1,152.7 1849.1,150.7 1849.1,148.6 1849.1,146.6 1849.1,144.6" /><polyline points="1481.4,413.2 1490.9,411.9 1500.3,410.6 1509.6,409.3 1518.8,408 1527.9,406.7 1536.8,405.4 1545.7,404.2 1554.5,402.9 1563.1,401.6 1571.6,400.3 1579.9,399 1588.2,397.7 1596.2,396.4 1604.2,395.1 1612,393.8 1619.6,392.5 1627.1,391.3 1634.4,390 1641.6,388.7 1648.6,387.4 1655.4,386.1 1662.1,384.8 1668.5,383.5 1674.9,382.2 1681,380.9 1687,379.6 1692.8,378.4 1698.4,377.1 1703.8,375.8 1709,374.5 1714.1,373.2 1719,371.9 1723.8,370.6 1728.3,369.3 1732.7,368 1736.9,366.7 1741,365.5 1744.9,364.2 1748.6,362.9 1752.2,361.6 1755.6,360.3 1758.9,359 1762,357.7 1765,356.4 1767.9,355.1 1770.6,353.9 1773.2,352.6 1775.6,351.3 1778,350 1780.2,348.7 1782.3,347.4 1784.4,346.1 1786.3,344.8 1788.1,343.5 1789.8,342.2 1791.4,341 1793,339.7 1794.5,338.4 1795.8,337.1 1797.1,335.8 1798.4,334.5 1799.6,333.2 1800.7,331.9 1801.7,330.6 1802.7,329.3 1803.6,328.1 1804.5,326.8 1805.3,325.5 1806.1,324.2 1806.8,322.9 1807.5,321.6 1808.2,320.3 1808.8,319 1809.4,317.7 1809.9,316.4 1810.4,315.2 1810.9,313.9 1811.4,312.6 1811.8,311.3 1812.2,310 1812.6,308.7 1812.9,307.4 1813.3,306.1 1813.6,304.8 1813.9,303.6 1814.2,302.3 1814.4,301 1814.7,299.7 1814.9,298.4 1815.1,297.1 1815.3,295.8 1815.5,294.5 1815.7,293.2 1815.9,291.9 1816,290.7 1816.2,289.4 1816.3,288.1 1816.5,286.8 1816.6,285.5 1816.7,284.2 1816.8,282.9 1816.9,281.6 1817,280.3 1817.1,279 1817.2,277.8 1817.3,276.5 1817.3,275.2 1817.4,273.9 1817.5,272.6 1817.5,271.3 1817.6,270 1817.7,268.7 1817.7,267.4 1817.8,266.1 1817.8,264.9 1817.8,263.6 1817.9,262.3 1817.9,261 1818,259.7 1818,257.7 1818.1,255.8 1818.1,253.8 1818.1,251.9 1818.2,249.9 1818.2,248 1818.2,246 1818.2,244.1 1818.3,242.1 1818.3,240.2 1818.3,238.2 1818.3,236.3 1818.3,234.3 1818.4,232.4 1818.4,230.4 1818.4,228.5 1818.4,226.5 1818.4,224.6 1818.4,222.6 1818.4,220.7 1818.4,218.7 1818.4,216.8 1818.4,214.8 1818.4,212.9 1818.4,210.9 1818.5,209 1818.5,207 1818.5,205.1 1818.5,203.1 1818.5,201.2 1818.5,199.2 1818.5,197.3 1818.5,195.3 1818.5,193.4 1818.5,191.4 1818.5,189.5 1818.5,187.5 1818.5,185.6 1818.5,183.6 1818.5,181.7 1818.5,179.7 1818.5,177.8 1818.5,175.8 1818.5,173.9 1818.5,171.9 1818.5,170 1818.5,168 1818.5,166.1 1818.5,164.1 1818.5,162.2 1818.5,160.2 1818.5,158.3 1818.5,156.3 1818.5,154.4 1818.5,152.4 1818.5,150.5 1818.5,148.5 1818.5,146.6 1818.5,144.6" /></g><line x1="1481.4" y1="382.2" x2="2296.9" y2="382.2" stroke="#ff0000" stroke-width="4.5"/><line x1="1481.4" y1="393" x2="2296.9" y2="393" stroke="#ff0000" stroke-width="2.4" stroke-dasharray="12.5 11"/><line x1="1481.4" y1="372.5" x2="2296.9" y2="372.5" stroke="#ff0000" stroke-width="2.4" stroke-dasharray="12.5 11"/><line x1="1882.6" y1="144.6" x2="1882.6" y2="796.9" stroke="#0000ff" stroke-width="4.5"/><line x1="1868.8" y1="144.6" x2="1868.8" y2="796.9" stroke="#0000ff" stroke-width="2.4" stroke-dasharray="12 11.5"/><line x1="1895.7" y1="144.6" x2="1895.7" y2="796.9" stroke="#0000ff" stroke-width="2.4" stroke-dasharray="12 11.5"/><circle cx="1603.7" cy="259.7" r="12" fill="#0000ff" stroke="#000" stroke-width="1.8"/><circle cx="1664.9" cy="259.7" r="12" fill="#0000ff" stroke="#000" stroke-width="1.8"/><circle cx="1726.1" cy="259.7" r="12" fill="#0000ff" stroke="#000" stroke-width="1.8"/><circle cx="1787.2" cy="259.7" r="12" fill="#0000ff" stroke="#000" stroke-width="1.8"/><circle cx="1848.4" cy="259.7" r="12" fill="#0000ff" stroke="#000" stroke-width="1.8"/><circle cx="1909.5" cy="259.7" r="12" fill="#0000ff" stroke="#000" stroke-width="1.8"/><circle cx="1970.7" cy="259.7" r="12" fill="#0000ff" stroke="#000" stroke-width="1.8"/><circle cx="2031.9" cy="259.7" r="12" fill="#0000ff" stroke="#000" stroke-width="1.8"/><circle cx="2093" cy="259.7" r="12" fill="#0000ff" stroke="#000" stroke-width="1.8"/><circle cx="1726.1" cy="466.9" r="12" fill="#ff0000" stroke="#000" stroke-width="1.8"/><circle cx="1726.1" cy="445.8" r="12" fill="#ff0000" stroke="#000" stroke-width="1.8"/><circle cx="1726.1" cy="424.7" r="12" fill="#ff0000" stroke="#000" stroke-width="1.8"/><circle cx="1726.1" cy="403.5" r="12" fill="#ff0000" stroke="#000" stroke-width="1.8"/><circle cx="1726.1" cy="382.4" r="12" fill="#ff0000" stroke="#000" stroke-width="1.8"/><circle cx="1726.1" cy="361.3" r="12" fill="#ff0000" stroke="#000" stroke-width="1.8"/><circle cx="1726.1" cy="340.1" r="12" fill="#ff0000" stroke="#000" stroke-width="1.8"/><circle cx="1726.1" cy="319" r="12" fill="#ff0000" stroke="#000" stroke-width="1.8"/><circle cx="1726.1" cy="297.9" r="12" fill="#ff0000" stroke="#000" stroke-width="1.8"/><circle cx="1692.9" cy="231.3" r="12" fill="#00ff00" stroke="#000" stroke-width="1.8"/><circle cx="1722.1" cy="253.7" r="12" fill="#00ff00" stroke="#000" stroke-width="1.8"/><circle cx="1751.3" cy="278.4" r="12" fill="#00ff00" stroke="#000" stroke-width="1.8"/><circle cx="1780.2" cy="301.8" r="12" fill="#00ff00" stroke="#000" stroke-width="1.8"/><circle cx="1807.6" cy="325.8" r="12" fill="#00ff00" stroke="#000" stroke-width="1.8"/><circle cx="1836.2" cy="348.8" r="12" fill="#00ff00" stroke="#000" stroke-width="1.8"/><circle cx="1864.7" cy="372.2" r="12" fill="#00ff00" stroke="#000" stroke-width="1.8"/><circle cx="1892.8" cy="396.2" r="12" fill="#00ff00" stroke="#000" stroke-width="1.8"/><circle cx="1921.4" cy="419.6" r="12" fill="#00ff00" stroke="#000" stroke-width="1.8"/><rect x="1936.8" y="582.5" width="334.6" height="184.4" fill="#fff"/><circle cx="2007.3" cy="623.9" r="12" fill="#ff0000" stroke="#000" stroke-width="1.8"/><circle cx="2007.3" cy="675.7" r="12" fill="#0000ff" stroke="#000" stroke-width="1.8"/><circle cx="2007.3" cy="727.5" r="12" fill="#00ff00" stroke="#000" stroke-width="1.8"/><rect x="1481.4" y="144.61" width="815.5" height="652.29" fill="none" stroke="#000" stroke-width="2.2"/><line x1="1481.4" y1="796.9" x2="1481.4" y2="809.9" stroke="#000" stroke-width="2.2"/><line x1="1522.2" y1="796.9" x2="1522.2" y2="804.9" stroke="#000" stroke-width="2.2"/><line x1="1563" y1="796.9" x2="1563" y2="804.9" stroke="#000" stroke-width="2.2"/><line x1="1603.7" y1="796.9" x2="1603.7" y2="804.9" stroke="#000" stroke-width="2.2"/><line x1="1644.5" y1="796.9" x2="1644.5" y2="804.9" stroke="#000" stroke-width="2.2"/><line x1="1685.3" y1="796.9" x2="1685.3" y2="809.9" stroke="#000" stroke-width="2.2"/><line x1="1726.1" y1="796.9" x2="1726.1" y2="804.9" stroke="#000" stroke-width="2.2"/><line x1="1766.8" y1="796.9" x2="1766.8" y2="804.9" stroke="#000" stroke-width="2.2"/><line x1="1807.6" y1="796.9" x2="1807.6" y2="804.9" stroke="#000" stroke-width="2.2"/><line x1="1848.4" y1="796.9" x2="1848.4" y2="804.9" stroke="#000" stroke-width="2.2"/><line x1="1889.2" y1="796.9" x2="1889.2" y2="809.9" stroke="#000" stroke-width="2.2"/><line x1="1929.9" y1="796.9" x2="1929.9" y2="804.9" stroke="#000" stroke-width="2.2"/><line x1="1970.7" y1="796.9" x2="1970.7" y2="804.9" stroke="#000" stroke-width="2.2"/><line x1="2011.5" y1="796.9" x2="2011.5" y2="804.9" stroke="#000" stroke-width="2.2"/><line x1="2052.2" y1="796.9" x2="2052.2" y2="804.9" stroke="#000" stroke-width="2.2"/><line x1="2093" y1="796.9" x2="2093" y2="809.9" stroke="#000" stroke-width="2.2"/><line x1="2133.8" y1="796.9" x2="2133.8" y2="804.9" stroke="#000" stroke-width="2.2"/><line x1="2174.6" y1="796.9" x2="2174.6" y2="804.9" stroke="#000" stroke-width="2.2"/><line x1="2215.4" y1="796.9" x2="2215.4" y2="804.9" stroke="#000" stroke-width="2.2"/><line x1="2256.1" y1="796.9" x2="2256.1" y2="804.9" stroke="#000" stroke-width="2.2"/><line x1="2296.9" y1="796.9" x2="2296.9" y2="809.9" stroke="#000" stroke-width="2.2"/><line x1="1481.4" y1="796.9" x2="1468.4" y2="796.9" stroke="#000" stroke-width="2.2"/><line x1="1481.4" y1="771.3" x2="1474.4" y2="771.3" stroke="#000" stroke-width="2.2"/><line x1="1481.4" y1="745.7" x2="1474.4" y2="745.7" stroke="#000" stroke-width="2.2"/><line x1="1481.4" y1="720.2" x2="1474.4" y2="720.2" stroke="#000" stroke-width="2.2"/><line x1="1481.4" y1="694.6" x2="1474.4" y2="694.6" stroke="#000" stroke-width="2.2"/><line x1="1481.4" y1="669" x2="1468.4" y2="669" stroke="#000" stroke-width="2.2"/><line x1="1481.4" y1="643.4" x2="1474.4" y2="643.4" stroke="#000" stroke-width="2.2"/><line x1="1481.4" y1="617.8" x2="1474.4" y2="617.8" stroke="#000" stroke-width="2.2"/><line x1="1481.4" y1="592.3" x2="1474.4" y2="592.3" stroke="#000" stroke-width="2.2"/><line x1="1481.4" y1="566.7" x2="1474.4" y2="566.7" stroke="#000" stroke-width="2.2"/><line x1="1481.4" y1="541.1" x2="1468.4" y2="541.1" stroke="#000" stroke-width="2.2"/><line x1="1481.4" y1="515.5" x2="1474.4" y2="515.5" stroke="#000" stroke-width="2.2"/><line x1="1481.4" y1="489.9" x2="1474.4" y2="489.9" stroke="#000" stroke-width="2.2"/><line x1="1481.4" y1="464.4" x2="1474.4" y2="464.4" stroke="#000" stroke-width="2.2"/><line x1="1481.4" y1="438.8" x2="1474.4" y2="438.8" stroke="#000" stroke-width="2.2"/><line x1="1481.4" y1="413.2" x2="1468.4" y2="413.2" stroke="#000" stroke-width="2.2"/><line x1="1481.4" y1="387.6" x2="1474.4" y2="387.6" stroke="#000" stroke-width="2.2"/><line x1="1481.4" y1="362" x2="1474.4" y2="362" stroke="#000" stroke-width="2.2"/><line x1="1481.4" y1="336.5" x2="1474.4" y2="336.5" stroke="#000" stroke-width="2.2"/><line x1="1481.4" y1="310.9" x2="1474.4" y2="310.9" stroke="#000" stroke-width="2.2"/><line x1="1481.4" y1="285.3" x2="1468.4" y2="285.3" stroke="#000" stroke-width="2.2"/><line x1="1481.4" y1="259.7" x2="1474.4" y2="259.7" stroke="#000" stroke-width="2.2"/><line x1="1481.4" y1="234.1" x2="1474.4" y2="234.1" stroke="#000" stroke-width="2.2"/><line x1="1481.4" y1="208.6" x2="1474.4" y2="208.6" stroke="#000" stroke-width="2.2"/><line x1="1481.4" y1="183" x2="1474.4" y2="183" stroke="#000" stroke-width="2.2"/><line x1="1481.4" y1="157.4" x2="1468.4" y2="157.4" stroke="#000" stroke-width="2.2"/><line x1="1481.4" y1="144.6" x2="1481.4" y2="131.6" stroke="#000" stroke-width="2.2"/><line x1="1604.1" y1="144.6" x2="1604.1" y2="136.6" stroke="#000" stroke-width="2.2"/><line x1="1675.9" y1="144.6" x2="1675.9" y2="136.6" stroke="#000" stroke-width="2.2"/><line x1="1726.9" y1="144.6" x2="1726.9" y2="136.6" stroke="#000" stroke-width="2.2"/><line x1="1766.4" y1="144.6" x2="1766.4" y2="136.6" stroke="#000" stroke-width="2.2"/><line x1="1798.7" y1="144.6" x2="1798.7" y2="136.6" stroke="#000" stroke-width="2.2"/><line x1="1826" y1="144.6" x2="1826" y2="136.6" stroke="#000" stroke-width="2.2"/><line x1="1849.6" y1="144.6" x2="1849.6" y2="136.6" stroke="#000" stroke-width="2.2"/><line x1="1870.5" y1="144.6" x2="1870.5" y2="136.6" stroke="#000" stroke-width="2.2"/><line x1="1889.2" y1="144.6" x2="1889.2" y2="131.6" stroke="#000" stroke-width="2.2"/><line x1="2011.9" y1="144.6" x2="2011.9" y2="136.6" stroke="#000" stroke-width="2.2"/><line x1="2083.7" y1="144.6" x2="2083.7" y2="136.6" stroke="#000" stroke-width="2.2"/><line x1="2134.6" y1="144.6" x2="2134.6" y2="136.6" stroke="#000" stroke-width="2.2"/><line x1="2174.2" y1="144.6" x2="2174.2" y2="136.6" stroke="#000" stroke-width="2.2"/><line x1="2206.4" y1="144.6" x2="2206.4" y2="136.6" stroke="#000" stroke-width="2.2"/><line x1="2233.7" y1="144.6" x2="2233.7" y2="136.6" stroke="#000" stroke-width="2.2"/><line x1="2257.4" y1="144.6" x2="2257.4" y2="136.6" stroke="#000" stroke-width="2.2"/><line x1="2278.2" y1="144.6" x2="2278.2" y2="136.6" stroke="#000" stroke-width="2.2"/><line x1="2296.9" y1="144.6" x2="2296.9" y2="131.6" stroke="#000" stroke-width="2.2"/><line x1="2296.9" y1="770.8" x2="2304.9" y2="770.8" stroke="#000" stroke-width="2.2"/><line x1="2296.9" y1="746" x2="2304.9" y2="746" stroke="#000" stroke-width="2.2"/><line x1="2296.9" y1="725.7" x2="2304.9" y2="725.7" stroke="#000" stroke-width="2.2"/><line x1="2296.9" y1="708.6" x2="2304.9" y2="708.6" stroke="#000" stroke-width="2.2"/><line x1="2296.9" y1="693.8" x2="2304.9" y2="693.8" stroke="#000" stroke-width="2.2"/><line x1="2296.9" y1="680.7" x2="2304.9" y2="680.7" stroke="#000" stroke-width="2.2"/><line x1="2296.9" y1="669" x2="2309.9" y2="669" stroke="#000" stroke-width="2.2"/><line x1="2296.9" y1="592" x2="2304.9" y2="592" stroke="#000" stroke-width="2.2"/><line x1="2296.9" y1="547" x2="2304.9" y2="547" stroke="#000" stroke-width="2.2"/><line x1="2296.9" y1="515" x2="2304.9" y2="515" stroke="#000" stroke-width="2.2"/><line x1="2296.9" y1="490.2" x2="2304.9" y2="490.2" stroke="#000" stroke-width="2.2"/><line x1="2296.9" y1="469.9" x2="2304.9" y2="469.9" stroke="#000" stroke-width="2.2"/><line x1="2296.9" y1="452.8" x2="2304.9" y2="452.8" stroke="#000" stroke-width="2.2"/><line x1="2296.9" y1="438" x2="2304.9" y2="438" stroke="#000" stroke-width="2.2"/><line x1="2296.9" y1="424.9" x2="2304.9" y2="424.9" stroke="#000" stroke-width="2.2"/><line x1="2296.9" y1="413.2" x2="2309.9" y2="413.2" stroke="#000" stroke-width="2.2"/><line x1="2296.9" y1="336.2" x2="2304.9" y2="336.2" stroke="#000" stroke-width="2.2"/><line x1="2296.9" y1="291.2" x2="2304.9" y2="291.2" stroke="#000" stroke-width="2.2"/><line x1="2296.9" y1="259.2" x2="2304.9" y2="259.2" stroke="#000" stroke-width="2.2"/><line x1="2296.9" y1="234.4" x2="2304.9" y2="234.4" stroke="#000" stroke-width="2.2"/><line x1="2296.9" y1="214.1" x2="2304.9" y2="214.1" stroke="#000" stroke-width="2.2"/><line x1="2296.9" y1="197" x2="2304.9" y2="197" stroke="#000" stroke-width="2.2"/><line x1="2296.9" y1="182.2" x2="2304.9" y2="182.2" stroke="#000" stroke-width="2.2"/><line x1="2296.9" y1="169.1" x2="2304.9" y2="169.1" stroke="#000" stroke-width="2.2"/><line x1="2296.9" y1="157.4" x2="2309.9" y2="157.4" stroke="#000" stroke-width="2.2"/><g transform="translate(15.5 69)" fill="#120606"><text x="0" y="0" style="font-family:&quot;Liberation Sans&quot;,Arial,Helvetica,sans-serif;font-size:61px;font-weight:bold;font-style:normal">A</text></g><g transform="translate(1318.1 69)" fill="#120606"><text x="0" y="0" style="font-family:&quot;Liberation Sans&quot;,Arial,Helvetica,sans-serif;font-size:61px;font-weight:bold;font-style:normal">B</text></g><g transform="translate(74.9 211.1) scale(1 1.02)" fill="#000"><text x="0" y="0" style="font-family:&quot;Liberation Sans&quot;,Arial,Helvetica,sans-serif;font-size:38px;font-weight:normal;font-style:normal">1.00</text></g><g transform="translate(90.7 353.5) scale(1 1.02)" fill="#000"><text x="0" y="0" style="font-family:&quot;Liberation Sans&quot;,Arial,Helvetica,sans-serif;font-size:38px;font-weight:normal;font-style:normal">0.75</text></g><g transform="translate(106 487) scale(1 1.02)" fill="#000"><text x="0" y="0" style="font-family:&quot;Liberation Sans&quot;,Arial,Helvetica,sans-serif;font-size:38px;font-weight:normal;font-style:normal">0.50</text></g><g transform="translate(120.4 611.4) scale(1 1.02)" fill="#000"><text x="0" y="0" style="font-family:&quot;Liberation Sans&quot;,Arial,Helvetica,sans-serif;font-size:38px;font-weight:normal;font-style:normal">0.25</text></g><g transform="translate(157.4 742.1) scale(1 1.02)" fill="#000"><text x="0" y="0" style="font-family:&quot;Liberation Sans&quot;,Arial,Helvetica,sans-serif;font-size:38px;font-weight:normal;font-style:normal">0.0</text></g><g transform="translate(255 798.1) scale(1 1.02)" fill="#000"><text x="0" y="0" style="font-family:&quot;Liberation Sans&quot;,Arial,Helvetica,sans-serif;font-size:38px;font-weight:normal;font-style:normal">0.5</text></g><g transform="translate(360.3 859.5) scale(1 1.02)" fill="#000"><text x="0" y="0" style="font-family:&quot;Liberation Sans&quot;,Arial,Helvetica,sans-serif;font-size:38px;font-weight:normal;font-style:normal">1.0</text></g><g transform="translate(476.9 926.6) scale(1 1.02)" fill="#000"><text x="0" y="0" style="font-family:&quot;Liberation Sans&quot;,Arial,Helvetica,sans-serif;font-size:38px;font-weight:normal;font-style:normal">1.5</text></g><g transform="translate(604.1 1001.3) scale(1 1.02)" fill="#000"><text x="0" y="0" style="font-family:&quot;Liberation Sans&quot;,Arial,Helvetica,sans-serif;font-size:38px;font-weight:normal;font-style:normal">2.0</text></g><g transform="translate(704.6 994.2) scale(1 1.02)" fill="#000"><text x="0" y="0" style="font-family:&quot;Liberation Sans&quot;,Arial,Helvetica,sans-serif;font-size:38px;font-weight:normal;font-style:normal">1.0</text></g><g transform="translate(804 909.4) scale(1 1.02)" fill="#000"><text x="0" y="0" style="font-family:&quot;Liberation Sans&quot;,Arial,Helvetica,sans-serif;font-size:38px;font-weight:normal;font-style:normal">1.5</text></g><g transform="translate(891.4 833.2) scale(1 1.02)" fill="#000"><text x="0" y="0" style="font-family:&quot;Liberation Sans&quot;,Arial,Helvetica,sans-serif;font-size:38px;font-weight:normal;font-style:normal">2.0</text></g><g transform="translate(969.7 765.4) scale(1 1.02)" fill="#000"><text x="0" y="0" style="font-family:&quot;Liberation Sans&quot;,Arial,Helvetica,sans-serif;font-size:38px;font-weight:normal;font-style:normal">2.5</text></g><g transform="translate(1041.7 705.3) scale(1 1.02)" fill="#000"><text x="0" y="0" style="font-family:&quot;Liberation Sans&quot;,Arial,Helvetica,sans-serif;font-size:38px;font-weight:normal;font-style:normal">3.0</text></g><g transform="translate(101.3 681.5) rotate(-96.1) scale(1 1.045)" fill="#000"><text x="0" y="0" style="font-family:&quot;Liberation Sans&quot;,Arial,Helvetica,sans-serif;font-size:62.5px;font-weight:bold;font-style:italic">Time Allocation</text></g><g transform="translate(164.4 849.7) rotate(31.5) scale(1 1.045)" fill="#000"><text x="0" y="0" style="font-family:&quot;Liberation Sans&quot;,Arial,Helvetica,sans-serif;font-size:62.5px;font-weight:bold;font-style:italic">Log</text><text x="115" y="25" style="font-family:&quot;Liberation Sans&quot;,Arial,Helvetica,sans-serif;font-size:36px;font-weight:bold;font-style:italic">10</text><text x="172" y="0" style="font-family:&quot;Liberation Sans&quot;,Arial,Helvetica,sans-serif;font-size:62.5px;font-weight:bold;font-style:italic">Price</text></g><g transform="translate(776.9 1066) rotate(-40.5) scale(1 1.045)" fill="#000"><text x="0" y="0" style="font-family:&quot;Liberation Sans&quot;,Arial,Helvetica,sans-serif;font-size:62.5px;font-weight:bold;font-style:italic">Log</text><text x="115" y="25" style="font-family:&quot;Liberation Sans&quot;,Arial,Helvetica,sans-serif;font-size:36px;font-weight:bold;font-style:italic">10</text><text x="172" y="0" style="font-family:&quot;Liberation Sans&quot;,Arial,Helvetica,sans-serif;font-size:62.5px;font-weight:bold;font-style:italic">Frequency</text></g><g transform="translate(1563.4 56.2) scale(1 1.045)" fill="#000"><text x="0" y="0" style="font-family:&quot;Liberation Sans&quot;,Arial,Helvetica,sans-serif;font-size:56.5px;font-weight:bold;font-style:italic">Price (seconds / reward)</text></g><g transform="translate(1470.3 114.1)" fill="#000"><text x="0" y="0" style="font-family:&quot;Liberation Sans&quot;,Arial,Helvetica,sans-serif;font-size:44.5px;font-weight:normal;font-style:normal">1</text></g><g transform="translate(1865 113.4)" fill="#000"><text x="0" y="0" style="font-family:&quot;Liberation Sans&quot;,Arial,Helvetica,sans-serif;font-size:44.5px;font-weight:normal;font-style:normal">10</text></g><g transform="translate(2260.7 114.1)" fill="#000"><text x="0" y="0" style="font-family:&quot;Liberation Sans&quot;,Arial,Helvetica,sans-serif;font-size:44.5px;font-weight:normal;font-style:normal">100</text></g><g transform="translate(1398.6 809.5)" fill="#000"><text x="0" y="0" style="font-family:&quot;Liberation Sans&quot;,Arial,Helvetica,sans-serif;font-size:44.5px;font-weight:normal;font-style:normal">0.5</text></g><g transform="translate(1398.6 681.8)" fill="#000"><text x="0" y="0" style="font-family:&quot;Liberation Sans&quot;,Arial,Helvetica,sans-serif;font-size:44.5px;font-weight:normal;font-style:normal">1.0</text></g><g transform="translate(1398.6 554.1)" fill="#000"><text x="0" y="0" style="font-family:&quot;Liberation Sans&quot;,Arial,Helvetica,sans-serif;font-size:44.5px;font-weight:normal;font-style:normal">1.5</text></g><g transform="translate(1398.6 425.4)" fill="#000"><text x="0" y="0" style="font-family:&quot;Liberation Sans&quot;,Arial,Helvetica,sans-serif;font-size:44.5px;font-weight:normal;font-style:normal">2.0</text></g><g transform="translate(1398.6 297.7)" fill="#000"><text x="0" y="0" style="font-family:&quot;Liberation Sans&quot;,Arial,Helvetica,sans-serif;font-size:44.5px;font-weight:normal;font-style:normal">2.5</text></g><g transform="translate(1398.6 170)" fill="#000"><text x="0" y="0" style="font-family:&quot;Liberation Sans&quot;,Arial,Helvetica,sans-serif;font-size:44.5px;font-weight:normal;font-style:normal">3.0</text></g><g transform="translate(1450.45 853)" fill="#000"><text x="0" y="0" style="font-family:&quot;Liberation Sans&quot;,Arial,Helvetica,sans-serif;font-size:44.5px;font-weight:normal;font-style:normal">0.0</text></g><g transform="translate(1654.58 853)" fill="#000"><text x="0" y="0" style="font-family:&quot;Liberation Sans&quot;,Arial,Helvetica,sans-serif;font-size:44.5px;font-weight:normal;font-style:normal">0.5</text></g><g transform="translate(1857.2 853)" fill="#000"><text x="0" y="0" style="font-family:&quot;Liberation Sans&quot;,Arial,Helvetica,sans-serif;font-size:44.5px;font-weight:normal;font-style:normal">1.0</text></g><g transform="translate(2061.33 853)" fill="#000"><text x="0" y="0" style="font-family:&quot;Liberation Sans&quot;,Arial,Helvetica,sans-serif;font-size:44.5px;font-weight:normal;font-style:normal">1.5</text></g><g transform="translate(2265.45 853)" fill="#000"><text x="0" y="0" style="font-family:&quot;Liberation Sans&quot;,Arial,Helvetica,sans-serif;font-size:44.5px;font-weight:normal;font-style:normal">2.0</text></g><g transform="translate(2318.8 169.7)" fill="#000"><text x="0" y="0" style="font-family:&quot;Liberation Sans&quot;,Arial,Helvetica,sans-serif;font-size:44.5px;font-weight:normal;font-style:normal">1000</text></g><g transform="translate(2318.8 426.1)" fill="#000"><text x="0" y="0" style="font-family:&quot;Liberation Sans&quot;,Arial,Helvetica,sans-serif;font-size:44.5px;font-weight:normal;font-style:normal">100</text></g><g transform="translate(2318.8 681.5)" fill="#000"><text x="0" y="0" style="font-family:&quot;Liberation Sans&quot;,Arial,Helvetica,sans-serif;font-size:44.5px;font-weight:normal;font-style:normal">10</text></g><g transform="translate(1758.6 922.6) scale(1 1.045)" fill="#000"><text x="0" y="0" style="font-family:&quot;Liberation Sans&quot;,Arial,Helvetica,sans-serif;font-size:57px;font-weight:bold;font-style:italic">Log</text><text x="105.5" y="22.5" style="font-family:&quot;Liberation Sans&quot;,Arial,Helvetica,sans-serif;font-size:33px;font-weight:bold;font-style:italic">10</text><text x="157.1" y="0" style="font-family:&quot;Liberation Sans&quot;,Arial,Helvetica,sans-serif;font-size:57px;font-weight:bold;font-style:italic">Price</text></g><g transform="translate(1366.1 794.4) rotate(-90) scale(1 1.045)" fill="#000"><text x="0" y="0" style="font-family:&quot;Liberation Sans&quot;,Arial,Helvetica,sans-serif;font-size:58.4px;font-weight:bold;font-style:italic">Log</text><text x="113.3" y="23.4" style="font-family:&quot;Liberation Sans&quot;,Arial,Helvetica,sans-serif;font-size:33.5px;font-weight:bold;font-style:italic">10</text><text x="162" y="0" style="font-family:&quot;Liberation Sans&quot;,Arial,Helvetica,sans-serif;font-size:58.4px;font-weight:bold;font-style:italic">Pulse Frequency</text></g><g transform="translate(2445.6 182.8) rotate(90) scale(1 1.045)" fill="#000"><text x="0" y="0" style="font-family:&quot;Liberation Sans&quot;,Arial,Helvetica,sans-serif;font-size:58.4px;font-weight:bold;font-style:italic">Pulse Frequency (Hz)</text></g><g transform="translate(2065.97 638.1)" fill="#000"><text x="0" y="0" style="font-family:&quot;Liberation Sans&quot;,Arial,Helvetica,sans-serif;font-size:41.8px;font-weight:normal;font-style:normal">frequency</text></g><g transform="translate(2065.57 689.9)" fill="#000"><text x="0" y="0" style="font-family:&quot;Liberation Sans&quot;,Arial,Helvetica,sans-serif;font-size:41.8px;font-weight:normal;font-style:normal">price</text></g><g transform="translate(2065.57 741.7)" fill="#000"><text x="0" y="0" style="font-family:&quot;Liberation Sans&quot;,Arial,Helvetica,sans-serif;font-size:41.8px;font-weight:normal;font-style:normal">radial</text></g></svg></body></html>
